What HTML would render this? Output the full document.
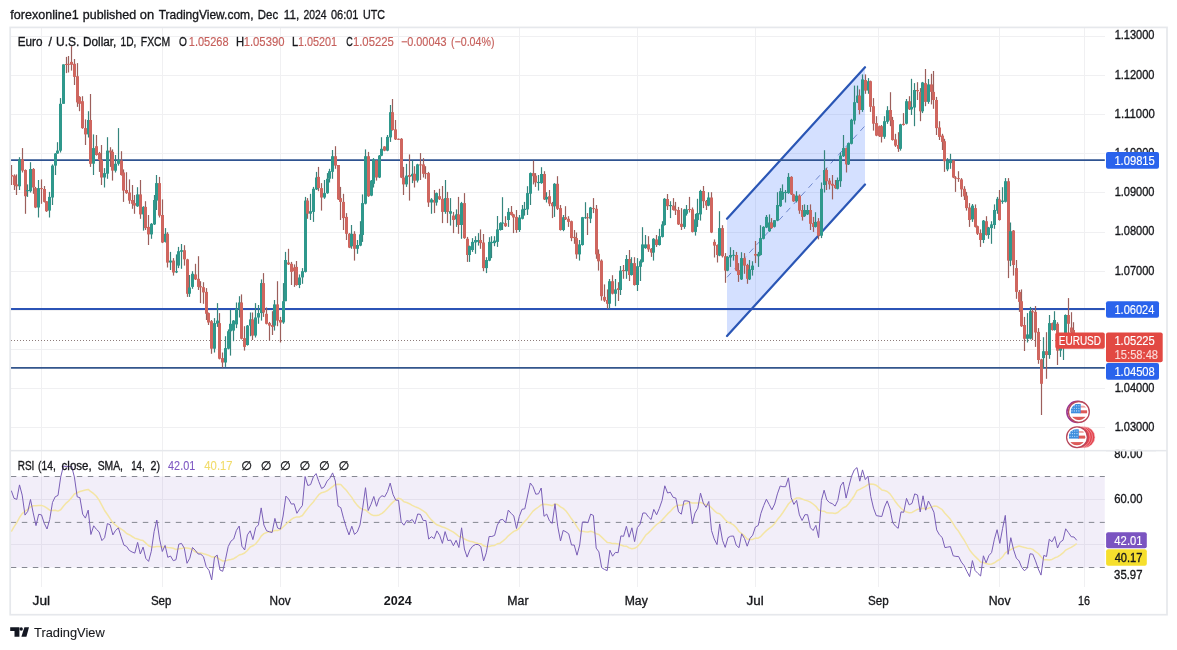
<!DOCTYPE html>
<html lang="en"><head><meta charset="utf-8"><title>EURUSD chart</title>
<style>html,body{margin:0;padding:0;background:#fff}body{width:1177px;height:650px;overflow:hidden}svg{display:block}text{white-space:pre}</style>
</head><body>
<svg width="1177" height="650" viewBox="0 0 1177 650" font-family='"Liberation Sans", "DejaVu Sans", sans-serif'>
<rect width="1177" height="650" fill="#fff"/>
<text y="18.6" font-size="12.6"><tspan x="10.26" textLength="68.47" lengthAdjust="spacingAndGlyphs" fill="#17181c" stroke="#17181c" stroke-width="0.33">forexonline1</tspan> <tspan x="82.84" textLength="53.27" lengthAdjust="spacingAndGlyphs" fill="#17181c" stroke="#17181c" stroke-width="0.33">published</tspan> <tspan x="139.88" textLength="14.36" lengthAdjust="spacingAndGlyphs" fill="#17181c" stroke="#17181c" stroke-width="0.33">on</tspan> <tspan x="158.63" textLength="94.85" lengthAdjust="spacingAndGlyphs" fill="#17181c" stroke="#17181c" stroke-width="0.33">TradingView.com,</tspan> <tspan x="257.84" textLength="20.31" lengthAdjust="spacingAndGlyphs" fill="#17181c" stroke="#17181c" stroke-width="0.33">Dec</tspan> <tspan x="283.84" textLength="15.34" lengthAdjust="spacingAndGlyphs" fill="#17181c" stroke="#17181c" stroke-width="0.33">11,</tspan> <tspan x="303.53" textLength="23.08" lengthAdjust="spacingAndGlyphs" fill="#17181c" stroke="#17181c" stroke-width="0.33">2024</tspan> <tspan x="330.96" textLength="27.44" lengthAdjust="spacingAndGlyphs" fill="#17181c" stroke="#17181c" stroke-width="0.33">06:01</tspan> <tspan x="362.97" textLength="22.05" lengthAdjust="spacingAndGlyphs" fill="#17181c" stroke="#17181c" stroke-width="0.33">UTC</tspan></text>
<g stroke="#f0f0f2" stroke-width="1" shape-rendering="crispEdges">
<line x1="41.6" y1="28" x2="41.6" y2="587"/>
<line x1="162.5" y1="28" x2="162.5" y2="587"/>
<line x1="280.7" y1="28" x2="280.7" y2="587"/>
<line x1="398.6" y1="28" x2="398.6" y2="587"/>
<line x1="519.6" y1="28" x2="519.6" y2="587"/>
<line x1="637.5" y1="28" x2="637.5" y2="587"/>
<line x1="755.6" y1="28" x2="755.6" y2="587"/>
<line x1="878.6" y1="28" x2="878.6" y2="587"/>
<line x1="999.6" y1="28" x2="999.6" y2="587"/>
<line x1="1084.3" y1="28" x2="1084.3" y2="587"/>
<line x1="11" y1="36.5" x2="1104.8" y2="36.5"/>
<line x1="11" y1="75.5" x2="1104.8" y2="75.5"/>
<line x1="11" y1="114.5" x2="1104.8" y2="114.5"/>
<line x1="11" y1="153.5" x2="1104.8" y2="153.5"/>
<line x1="11" y1="192.5" x2="1104.8" y2="192.5"/>
<line x1="11" y1="232.5" x2="1104.8" y2="232.5"/>
<line x1="11" y1="271.5" x2="1104.8" y2="271.5"/>
<line x1="11" y1="310.5" x2="1104.8" y2="310.5"/>
<line x1="11" y1="349.5" x2="1104.8" y2="349.5"/>
<line x1="11" y1="388.5" x2="1104.8" y2="388.5"/>
<line x1="11" y1="427.5" x2="1104.8" y2="427.5"/>
<line x1="11" y1="499.5" x2="1104.8" y2="499.5"/>
<line x1="11" y1="544.3" x2="1104.8" y2="544.3"/>
</g>
<g id="channel">
<polygon points="727,218.7 865,67.2 865,184.5 727,336" fill="#2962ff" fill-opacity="0.2"/>
<line x1="727" y1="277.3" x2="865" y2="125.8" stroke="#5d78c4" stroke-width="1" stroke-dasharray="6,5" opacity="0.85"/>
<line x1="727" y1="218.7" x2="865" y2="67.2" stroke="#2a56b5" stroke-width="2.2" stroke-linecap="round"/>
<line x1="727" y1="336" x2="865" y2="184.5" stroke="#2a56b5" stroke-width="2.2" stroke-linecap="round"/>
</g>
<line x1="11" y1="160.1" x2="1104.8" y2="160.1" stroke="#2f5391" stroke-width="1.9"/>
<line x1="11" y1="309.0" x2="1104.8" y2="309.0" stroke="#2b53b6" stroke-width="1.9"/>
<line x1="11" y1="367.9" x2="1104.8" y2="367.9" stroke="#33568c" stroke-width="1.9"/>
<line x1="11" y1="340.5" x2="1104.8" y2="340.5" stroke="#8e7c7a" stroke-width="1" stroke-dasharray="1,2" shape-rendering="crispEdges"/>
<g id="candles">
<path d="M11.5 165.0V185.0" stroke="#9c5f5b" stroke-width="1.2"/><rect x="10.00" y="175.0" width="3" height="1.5" fill="#cf665f"/>
<path d="M14.5 174.4V190.0" stroke="#9c5f5b" stroke-width="1.2"/><rect x="13.00" y="175.6" width="3" height="9.4" fill="#cf665f"/>
<path d="M16.5 174.4V195.0" stroke="#9c5f5b" stroke-width="1.2"/><rect x="15.00" y="184.4" width="3" height="1.9" fill="#cf665f"/>
<path d="M19.5 157.2V190.0" stroke="#35857d" stroke-width="1.2"/><rect x="18.00" y="159.4" width="3" height="26.9" fill="#2f988c"/>
<path d="M22.5 148.1V172.5" stroke="#9c5f5b" stroke-width="1.2"/><rect x="21.00" y="159.4" width="3" height="11.2" fill="#cf665f"/>
<path d="M25.5 169.4V213.8" stroke="#9c5f5b" stroke-width="1.2"/><rect x="24.00" y="170.0" width="3" height="26.2" fill="#cf665f"/>
<path d="M27.5 184.4V196.9" stroke="#35857d" stroke-width="1.2"/><rect x="26.00" y="190.0" width="3" height="1.2" fill="#2f988c"/>
<path d="M30.5 162.2V192.5" stroke="#35857d" stroke-width="1.2"/><rect x="29.00" y="169.0" width="3" height="22.2" fill="#2f988c"/>
<path d="M33.5 168.1V193.8" stroke="#9c5f5b" stroke-width="1.2"/><rect x="32.00" y="169.0" width="3" height="18.5" fill="#cf665f"/>
<path d="M35.5 186.9V208.1" stroke="#9c5f5b" stroke-width="1.2"/><rect x="34.00" y="188.1" width="3" height="19.4" fill="#cf665f"/>
<path d="M38.5 180.0V217.5" stroke="#35857d" stroke-width="1.2"/><rect x="37.00" y="188.1" width="3" height="19.4" fill="#2f988c"/>
<path d="M41.5 179.4V203.8" stroke="#9c5f5b" stroke-width="1.2"/><rect x="40.00" y="188.1" width="3" height="1.0" fill="#cf665f"/>
<path d="M44.5 186.0V202.5" stroke="#9c5f5b" stroke-width="1.2"/><rect x="43.00" y="189.0" width="3" height="12.9" fill="#cf665f"/>
<path d="M46.5 201.2V211.9" stroke="#9c5f5b" stroke-width="1.2"/><rect x="45.00" y="201.2" width="3" height="10.0" fill="#cf665f"/>
<path d="M49.5 191.9V217.5" stroke="#35857d" stroke-width="1.2"/><rect x="48.00" y="196.9" width="3" height="13.7" fill="#2f988c"/>
<path d="M52.5 164.4V205.0" stroke="#35857d" stroke-width="1.2"/><rect x="51.00" y="165.6" width="3" height="31.9" fill="#2f988c"/>
<path d="M55.5 153.1V175.0" stroke="#35857d" stroke-width="1.2"/><rect x="54.00" y="153.5" width="3" height="12.1" fill="#2f988c"/>
<path d="M57.5 142.2V153.8" stroke="#35857d" stroke-width="1.2"/><rect x="56.00" y="150.6" width="3" height="2.9" fill="#2f988c"/>
<path d="M60.5 98.1V152.5" stroke="#35857d" stroke-width="1.2"/><rect x="59.00" y="103.8" width="3" height="46.9" fill="#2f988c"/>
<path d="M63.5 64.4V103.8" stroke="#35857d" stroke-width="1.2"/><rect x="62.00" y="64.4" width="3" height="39.4" fill="#2f988c"/>
<path d="M66.5 56.9V73.1" stroke="#9c5f5b" stroke-width="1.2"/><rect x="65.00" y="64.0" width="3" height="1.0" fill="#cf665f"/>
<path d="M68.5 56.0V72.5" stroke="#9c5f5b" stroke-width="1.2"/><rect x="67.00" y="63.8" width="3" height="1.0" fill="#cf665f"/>
<path d="M71.5 46.2V70.6" stroke="#9c5f5b" stroke-width="1.2"/><rect x="70.00" y="61.9" width="3" height="2.9" fill="#cf665f"/>
<path d="M74.5 59.0V85.0" stroke="#9c5f5b" stroke-width="1.2"/><rect x="73.00" y="63.8" width="3" height="13.1" fill="#cf665f"/>
<path d="M77.5 63.1V106.9" stroke="#9c5f5b" stroke-width="1.2"/><rect x="76.00" y="76.2" width="3" height="26.2" fill="#cf665f"/>
<path d="M79.5 96.2V111.2" stroke="#9c5f5b" stroke-width="1.2"/><rect x="78.00" y="96.9" width="3" height="6.9" fill="#cf665f"/>
<path d="M82.5 96.2V128.8" stroke="#9c5f5b" stroke-width="1.2"/><rect x="81.00" y="101.2" width="3" height="26.9" fill="#cf665f"/>
<path d="M85.5 119.4V145.0" stroke="#9c5f5b" stroke-width="1.2"/><rect x="84.00" y="128.1" width="3" height="6.3" fill="#cf665f"/>
<path d="M88.5 111.2V137.5" stroke="#35857d" stroke-width="1.2"/><rect x="87.00" y="120.0" width="3" height="14.4" fill="#2f988c"/>
<path d="M90.5 94.0V166.9" stroke="#9c5f5b" stroke-width="1.2"/><rect x="89.00" y="120.0" width="3" height="43.8" fill="#cf665f"/>
<path d="M93.5 134.4V175.0" stroke="#35857d" stroke-width="1.2"/><rect x="92.00" y="148.1" width="3" height="15.6" fill="#2f988c"/>
<path d="M96.5 135.0V155.6" stroke="#9c5f5b" stroke-width="1.2"/><rect x="95.00" y="146.2" width="3" height="8.8" fill="#cf665f"/>
<path d="M99.5 151.9V171.9" stroke="#9c5f5b" stroke-width="1.2"/><rect x="98.00" y="153.1" width="3" height="6.9" fill="#cf665f"/>
<path d="M101.5 145.0V185.0" stroke="#9c5f5b" stroke-width="1.2"/><rect x="100.00" y="160.0" width="3" height="17.5" fill="#cf665f"/>
<path d="M104.5 168.1V187.5" stroke="#35857d" stroke-width="1.2"/><rect x="103.00" y="173.1" width="3" height="4.4" fill="#2f988c"/>
<path d="M107.5 137.2V178.8" stroke="#35857d" stroke-width="1.2"/><rect x="106.00" y="150.6" width="3" height="23.1" fill="#2f988c"/>
<path d="M110.5 147.2V166.9" stroke="#9c5f5b" stroke-width="1.2"/><rect x="109.00" y="150.6" width="3" height="1.9" fill="#cf665f"/>
<path d="M112.5 149.4V180.6" stroke="#9c5f5b" stroke-width="1.2"/><rect x="111.00" y="151.9" width="3" height="18.7" fill="#cf665f"/>
<path d="M115.5 155.0V172.5" stroke="#35857d" stroke-width="1.2"/><rect x="114.00" y="163.8" width="3" height="6.9" fill="#2f988c"/>
<path d="M118.5 128.1V165.6" stroke="#35857d" stroke-width="1.2"/><rect x="117.00" y="160.0" width="3" height="3.8" fill="#2f988c"/>
<path d="M121.5 151.2V175.6" stroke="#9c5f5b" stroke-width="1.2"/><rect x="120.00" y="160.6" width="3" height="14.4" fill="#cf665f"/>
<path d="M123.5 169.4V201.9" stroke="#9c5f5b" stroke-width="1.2"/><rect x="122.00" y="172.5" width="3" height="18.1" fill="#cf665f"/>
<path d="M126.5 172.2V193.8" stroke="#9c5f5b" stroke-width="1.2"/><rect x="125.00" y="190.0" width="3" height="3.1" fill="#cf665f"/>
<path d="M129.5 179.4V203.8" stroke="#9c5f5b" stroke-width="1.2"/><rect x="128.00" y="192.5" width="3" height="8.1" fill="#cf665f"/>
<path d="M132.5 185.0V208.8" stroke="#9c5f5b" stroke-width="1.2"/><rect x="131.00" y="200.0" width="3" height="3.8" fill="#cf665f"/>
<path d="M134.5 195.0V213.8" stroke="#9c5f5b" stroke-width="1.2"/><rect x="133.00" y="203.1" width="3" height="2.5" fill="#cf665f"/>
<path d="M137.5 187.2V206.9" stroke="#35857d" stroke-width="1.2"/><rect x="136.00" y="194.4" width="3" height="11.9" fill="#2f988c"/>
<path d="M140.5 180.0V218.8" stroke="#9c5f5b" stroke-width="1.2"/><rect x="139.00" y="194.4" width="3" height="20.0" fill="#cf665f"/>
<path d="M143.5 206.2V230.6" stroke="#35857d" stroke-width="1.2"/><rect x="142.00" y="206.9" width="3" height="7.5" fill="#2f988c"/>
<path d="M145.5 201.2V230.0" stroke="#9c5f5b" stroke-width="1.2"/><rect x="144.00" y="206.9" width="3" height="21.2" fill="#cf665f"/>
<path d="M148.5 215.0V245.0" stroke="#9c5f5b" stroke-width="1.2"/><rect x="147.00" y="226.9" width="3" height="7.5" fill="#cf665f"/>
<path d="M151.5 223.1V238.8" stroke="#35857d" stroke-width="1.2"/><rect x="150.00" y="223.8" width="3" height="10.6" fill="#2f988c"/>
<path d="M154.5 195.0V225.0" stroke="#35857d" stroke-width="1.2"/><rect x="153.00" y="200.0" width="3" height="24.4" fill="#2f988c"/>
<path d="M156.5 175.0V210.0" stroke="#35857d" stroke-width="1.2"/><rect x="155.00" y="183.1" width="3" height="17.5" fill="#2f988c"/>
<path d="M159.5 176.9V217.5" stroke="#9c5f5b" stroke-width="1.2"/><rect x="158.00" y="183.1" width="3" height="32.5" fill="#cf665f"/>
<path d="M162.5 199.4V243.1" stroke="#9c5f5b" stroke-width="1.2"/><rect x="161.00" y="215.0" width="3" height="27.5" fill="#cf665f"/>
<path d="M165.5 228.1V242.5" stroke="#35857d" stroke-width="1.2"/><rect x="164.00" y="233.8" width="3" height="8.1" fill="#2f988c"/>
<path d="M167.5 232.2V267.5" stroke="#9c5f5b" stroke-width="1.2"/><rect x="166.00" y="233.8" width="3" height="28.8" fill="#cf665f"/>
<path d="M170.5 251.9V270.0" stroke="#35857d" stroke-width="1.2"/><rect x="169.00" y="260.6" width="3" height="1.9" fill="#2f988c"/>
<path d="M173.5 258.1V275.6" stroke="#9c5f5b" stroke-width="1.2"/><rect x="172.00" y="260.6" width="3" height="11.9" fill="#cf665f"/>
<path d="M176.5 254.4V273.1" stroke="#35857d" stroke-width="1.2"/><rect x="175.00" y="271.2" width="3" height="1.2" fill="#2f988c"/>
<path d="M178.5 246.9V268.1" stroke="#35857d" stroke-width="1.2"/><rect x="177.00" y="251.2" width="3" height="14.4" fill="#2f988c"/>
<path d="M181.5 244.0V268.8" stroke="#35857d" stroke-width="1.2"/><rect x="180.00" y="250.2" width="3" height="1.6" fill="#2f988c"/>
<path d="M184.5 245.2V265.6" stroke="#9c5f5b" stroke-width="1.2"/><rect x="183.00" y="250.2" width="3" height="9.1" fill="#cf665f"/>
<path d="M187.5 258.8V296.9" stroke="#9c5f5b" stroke-width="1.2"/><rect x="186.00" y="259.4" width="3" height="34.4" fill="#cf665f"/>
<path d="M189.5 275.0V296.9" stroke="#35857d" stroke-width="1.2"/><rect x="188.00" y="287.5" width="3" height="6.2" fill="#2f988c"/>
<path d="M192.5 271.2V288.8" stroke="#35857d" stroke-width="1.2"/><rect x="191.00" y="273.8" width="3" height="13.1" fill="#2f988c"/>
<path d="M195.5 263.8V280.0" stroke="#9c5f5b" stroke-width="1.2"/><rect x="194.00" y="274.4" width="3" height="5.0" fill="#cf665f"/>
<path d="M198.5 256.2V290.0" stroke="#9c5f5b" stroke-width="1.2"/><rect x="197.00" y="278.8" width="3" height="8.1" fill="#cf665f"/>
<path d="M200.5 281.2V303.1" stroke="#9c5f5b" stroke-width="1.2"/><rect x="199.00" y="286.2" width="3" height="1.2" fill="#cf665f"/>
<path d="M203.5 282.2V303.8" stroke="#9c5f5b" stroke-width="1.2"/><rect x="202.00" y="287.2" width="3" height="5.2" fill="#cf665f"/>
<path d="M206.5 288.1V320.0" stroke="#9c5f5b" stroke-width="1.2"/><rect x="205.00" y="291.9" width="3" height="21.9" fill="#cf665f"/>
<path d="M208.5 312.5V325.0" stroke="#9c5f5b" stroke-width="1.2"/><rect x="207.00" y="313.1" width="3" height="9.4" fill="#cf665f"/>
<path d="M211.5 320.0V353.8" stroke="#9c5f5b" stroke-width="1.2"/><rect x="210.00" y="321.2" width="3" height="27.5" fill="#cf665f"/>
<path d="M214.5 318.1V352.5" stroke="#35857d" stroke-width="1.2"/><rect x="213.00" y="323.1" width="3" height="25.6" fill="#2f988c"/>
<path d="M217.5 303.1V326.9" stroke="#35857d" stroke-width="1.2"/><rect x="216.00" y="320.6" width="3" height="3.1" fill="#2f988c"/>
<path d="M219.5 313.1V359.4" stroke="#9c5f5b" stroke-width="1.2"/><rect x="218.00" y="323.1" width="3" height="35.6" fill="#cf665f"/>
<path d="M222.5 352.5V367.5" stroke="#9c5f5b" stroke-width="1.2"/><rect x="221.00" y="358.1" width="3" height="4.4" fill="#cf665f"/>
<path d="M225.5 336.2V366.9" stroke="#35857d" stroke-width="1.2"/><rect x="224.00" y="348.1" width="3" height="14.4" fill="#2f988c"/>
<path d="M228.5 329.4V349.4" stroke="#35857d" stroke-width="1.2"/><rect x="227.00" y="331.2" width="3" height="17.5" fill="#2f988c"/>
<path d="M230.5 310.0V355.6" stroke="#35857d" stroke-width="1.2"/><rect x="229.00" y="323.8" width="3" height="7.5" fill="#2f988c"/>
<path d="M233.5 320.0V341.2" stroke="#35857d" stroke-width="1.2"/><rect x="232.00" y="320.6" width="3" height="10.0" fill="#2f988c"/>
<path d="M236.5 302.5V328.1" stroke="#35857d" stroke-width="1.2"/><rect x="235.00" y="308.8" width="3" height="15.6" fill="#2f988c"/>
<path d="M239.5 296.2V317.5" stroke="#35857d" stroke-width="1.2"/><rect x="238.00" y="302.5" width="3" height="6.2" fill="#2f988c"/>
<path d="M241.5 294.4V339.4" stroke="#9c5f5b" stroke-width="1.2"/><rect x="240.00" y="302.5" width="3" height="36.2" fill="#cf665f"/>
<path d="M244.5 326.2V350.6" stroke="#9c5f5b" stroke-width="1.2"/><rect x="243.00" y="338.1" width="3" height="8.8" fill="#cf665f"/>
<path d="M247.5 325.0V345.6" stroke="#35857d" stroke-width="1.2"/><rect x="246.00" y="325.6" width="3" height="19.4" fill="#2f988c"/>
<path d="M250.5 312.5V336.2" stroke="#35857d" stroke-width="1.2"/><rect x="249.00" y="319.4" width="3" height="6.2" fill="#2f988c"/>
<path d="M252.5 312.5V340.0" stroke="#9c5f5b" stroke-width="1.2"/><rect x="251.00" y="319.4" width="3" height="16.2" fill="#cf665f"/>
<path d="M255.5 303.1V337.5" stroke="#35857d" stroke-width="1.2"/><rect x="254.00" y="317.5" width="3" height="18.1" fill="#2f988c"/>
<path d="M258.5 305.0V323.8" stroke="#35857d" stroke-width="1.2"/><rect x="257.00" y="313.1" width="3" height="4.4" fill="#2f988c"/>
<path d="M261.5 279.4V320.6" stroke="#35857d" stroke-width="1.2"/><rect x="260.00" y="283.1" width="3" height="30.0" fill="#2f988c"/>
<path d="M263.5 273.1V316.9" stroke="#9c5f5b" stroke-width="1.2"/><rect x="262.00" y="283.1" width="3" height="29.4" fill="#cf665f"/>
<path d="M266.5 307.5V324.4" stroke="#9c5f5b" stroke-width="1.2"/><rect x="265.00" y="313.8" width="3" height="10.0" fill="#cf665f"/>
<path d="M269.5 321.9V340.6" stroke="#9c5f5b" stroke-width="1.2"/><rect x="268.00" y="323.1" width="3" height="2.5" fill="#cf665f"/>
<path d="M272.5 311.2V335.0" stroke="#9c5f5b" stroke-width="1.2"/><rect x="271.00" y="325.0" width="3" height="1.9" fill="#cf665f"/>
<path d="M274.5 300.0V330.6" stroke="#35857d" stroke-width="1.2"/><rect x="273.00" y="304.4" width="3" height="21.2" fill="#2f988c"/>
<path d="M277.5 281.2V326.2" stroke="#9c5f5b" stroke-width="1.2"/><rect x="276.00" y="304.4" width="3" height="16.2" fill="#cf665f"/>
<path d="M280.5 316.9V342.5" stroke="#9c5f5b" stroke-width="1.2"/><rect x="279.00" y="320.0" width="3" height="2.5" fill="#cf665f"/>
<path d="M283.5 283.1V323.8" stroke="#35857d" stroke-width="1.2"/><rect x="282.00" y="301.2" width="3" height="21.2" fill="#2f988c"/>
<path d="M285.5 251.9V301.2" stroke="#35857d" stroke-width="1.2"/><rect x="284.00" y="260.0" width="3" height="41.2" fill="#2f988c"/>
<path d="M288.5 248.8V265.0" stroke="#9c5f5b" stroke-width="1.2"/><rect x="287.00" y="262.5" width="3" height="1.9" fill="#cf665f"/>
<path d="M291.5 261.9V285.0" stroke="#9c5f5b" stroke-width="1.2"/><rect x="290.00" y="263.8" width="3" height="8.1" fill="#cf665f"/>
<path d="M294.5 264.4V286.9" stroke="#9c5f5b" stroke-width="1.2"/><rect x="293.00" y="267.5" width="3" height="3.8" fill="#cf665f"/>
<path d="M296.5 261.0V285.6" stroke="#9c5f5b" stroke-width="1.2"/><rect x="295.00" y="266.9" width="3" height="18.1" fill="#cf665f"/>
<path d="M299.5 274.4V288.1" stroke="#35857d" stroke-width="1.2"/><rect x="298.00" y="277.5" width="3" height="7.5" fill="#2f988c"/>
<path d="M302.5 268.1V283.8" stroke="#35857d" stroke-width="1.2"/><rect x="301.00" y="271.2" width="3" height="6.2" fill="#2f988c"/>
<path d="M305.5 196.9V272.5" stroke="#35857d" stroke-width="1.2"/><rect x="304.00" y="200.6" width="3" height="71.3" fill="#2f988c"/>
<path d="M307.5 198.1V218.8" stroke="#9c5f5b" stroke-width="1.2"/><rect x="306.00" y="200.6" width="3" height="13.1" fill="#cf665f"/>
<path d="M310.5 193.8V220.0" stroke="#35857d" stroke-width="1.2"/><rect x="309.00" y="211.2" width="3" height="2.5" fill="#2f988c"/>
<path d="M313.5 186.9V221.9" stroke="#35857d" stroke-width="1.2"/><rect x="312.00" y="188.8" width="3" height="23.1" fill="#2f988c"/>
<path d="M316.5 171.9V190.0" stroke="#35857d" stroke-width="1.2"/><rect x="315.00" y="177.5" width="3" height="11.9" fill="#2f988c"/>
<path d="M318.5 166.9V191.2" stroke="#9c5f5b" stroke-width="1.2"/><rect x="317.00" y="176.9" width="3" height="11.2" fill="#cf665f"/>
<path d="M321.5 183.1V210.6" stroke="#9c5f5b" stroke-width="1.2"/><rect x="320.00" y="188.1" width="3" height="9.4" fill="#cf665f"/>
<path d="M324.5 180.0V198.8" stroke="#35857d" stroke-width="1.2"/><rect x="323.00" y="193.1" width="3" height="4.4" fill="#2f988c"/>
<path d="M327.5 173.1V193.8" stroke="#35857d" stroke-width="1.2"/><rect x="326.00" y="178.8" width="3" height="14.4" fill="#2f988c"/>
<path d="M329.5 168.8V182.5" stroke="#35857d" stroke-width="1.2"/><rect x="328.00" y="171.2" width="3" height="7.5" fill="#2f988c"/>
<path d="M332.5 150.0V178.8" stroke="#35857d" stroke-width="1.2"/><rect x="331.00" y="156.2" width="3" height="15.6" fill="#2f988c"/>
<path d="M335.5 146.2V168.8" stroke="#9c5f5b" stroke-width="1.2"/><rect x="334.00" y="156.2" width="3" height="9.4" fill="#cf665f"/>
<path d="M338.5 165.0V200.0" stroke="#9c5f5b" stroke-width="1.2"/><rect x="337.00" y="165.0" width="3" height="34.4" fill="#cf665f"/>
<path d="M340.5 186.9V220.0" stroke="#9c5f5b" stroke-width="1.2"/><rect x="339.00" y="198.1" width="3" height="3.8" fill="#cf665f"/>
<path d="M343.5 193.8V230.0" stroke="#9c5f5b" stroke-width="1.2"/><rect x="342.00" y="201.9" width="3" height="16.2" fill="#cf665f"/>
<path d="M346.5 213.1V240.0" stroke="#9c5f5b" stroke-width="1.2"/><rect x="345.00" y="216.9" width="3" height="16.9" fill="#cf665f"/>
<path d="M349.5 233.1V248.1" stroke="#9c5f5b" stroke-width="1.2"/><rect x="348.00" y="233.8" width="3" height="13.8" fill="#cf665f"/>
<path d="M351.5 225.0V248.8" stroke="#35857d" stroke-width="1.2"/><rect x="350.00" y="233.8" width="3" height="12.5" fill="#2f988c"/>
<path d="M354.5 231.2V260.6" stroke="#9c5f5b" stroke-width="1.2"/><rect x="353.00" y="233.8" width="3" height="15.0" fill="#cf665f"/>
<path d="M357.5 240.0V253.8" stroke="#35857d" stroke-width="1.2"/><rect x="356.00" y="245.0" width="3" height="3.8" fill="#2f988c"/>
<path d="M360.5 221.2V246.2" stroke="#35857d" stroke-width="1.2"/><rect x="359.00" y="234.4" width="3" height="11.2" fill="#2f988c"/>
<path d="M362.5 194.4V241.9" stroke="#35857d" stroke-width="1.2"/><rect x="361.00" y="203.1" width="3" height="31.9" fill="#2f988c"/>
<path d="M365.5 149.4V204.4" stroke="#35857d" stroke-width="1.2"/><rect x="364.00" y="156.2" width="3" height="47.5" fill="#2f988c"/>
<path d="M368.5 151.9V196.9" stroke="#9c5f5b" stroke-width="1.2"/><rect x="367.00" y="156.2" width="3" height="40.0" fill="#cf665f"/>
<path d="M371.5 180.0V196.2" stroke="#35857d" stroke-width="1.2"/><rect x="370.00" y="180.6" width="3" height="15.0" fill="#2f988c"/>
<path d="M373.5 158.1V187.5" stroke="#35857d" stroke-width="1.2"/><rect x="372.00" y="159.4" width="3" height="24.4" fill="#2f988c"/>
<path d="M376.5 160.0V180.6" stroke="#9c5f5b" stroke-width="1.2"/><rect x="375.00" y="160.6" width="3" height="16.9" fill="#cf665f"/>
<path d="M379.5 155.0V178.1" stroke="#35857d" stroke-width="1.2"/><rect x="378.00" y="155.6" width="3" height="21.9" fill="#2f988c"/>
<path d="M381.5 137.2V156.2" stroke="#35857d" stroke-width="1.2"/><rect x="380.00" y="148.8" width="3" height="6.9" fill="#2f988c"/>
<path d="M384.5 146.2V151.2" stroke="#9c5f5b" stroke-width="1.2"/><rect x="383.00" y="146.5" width="3" height="4.1" fill="#cf665f"/>
<path d="M387.5 135.0V151.2" stroke="#35857d" stroke-width="1.2"/><rect x="386.00" y="136.9" width="3" height="13.7" fill="#2f988c"/>
<path d="M390.5 105.0V141.9" stroke="#35857d" stroke-width="1.2"/><rect x="389.00" y="112.2" width="3" height="25.2" fill="#2f988c"/>
<path d="M392.5 99.0V130.6" stroke="#9c5f5b" stroke-width="1.2"/><rect x="391.00" y="112.2" width="3" height="17.8" fill="#cf665f"/>
<path d="M395.5 120.0V140.0" stroke="#9c5f5b" stroke-width="1.2"/><rect x="394.00" y="129.4" width="3" height="10.0" fill="#cf665f"/>
<path d="M398.5 138.5V140.0" stroke="#9c5f5b" stroke-width="1.2"/><rect x="397.00" y="138.8" width="3" height="1.0" fill="#cf665f"/>
<path d="M401.5 138.1V178.1" stroke="#9c5f5b" stroke-width="1.2"/><rect x="400.00" y="138.8" width="3" height="38.8" fill="#cf665f"/>
<path d="M403.5 166.9V195.0" stroke="#9c5f5b" stroke-width="1.2"/><rect x="402.00" y="177.5" width="3" height="6.9" fill="#cf665f"/>
<path d="M406.5 163.8V186.9" stroke="#35857d" stroke-width="1.2"/><rect x="405.00" y="175.6" width="3" height="8.8" fill="#2f988c"/>
<path d="M409.5 154.4V200.6" stroke="#9c5f5b" stroke-width="1.2"/><rect x="408.00" y="175.0" width="3" height="1.9" fill="#cf665f"/>
<path d="M412.5 160.6V183.1" stroke="#35857d" stroke-width="1.2"/><rect x="411.00" y="173.8" width="3" height="2.5" fill="#2f988c"/>
<path d="M414.5 166.2V187.5" stroke="#9c5f5b" stroke-width="1.2"/><rect x="413.00" y="173.8" width="3" height="6.9" fill="#cf665f"/>
<path d="M417.5 163.8V182.5" stroke="#35857d" stroke-width="1.2"/><rect x="416.00" y="164.4" width="3" height="16.2" fill="#2f988c"/>
<path d="M420.5 153.1V180.0" stroke="#9c5f5b" stroke-width="1.2"/><rect x="419.00" y="164.4" width="3" height="1.0" fill="#cf665f"/>
<path d="M423.5 158.1V177.5" stroke="#9c5f5b" stroke-width="1.2"/><rect x="422.00" y="164.4" width="3" height="9.4" fill="#cf665f"/>
<path d="M425.5 166.2V178.8" stroke="#9c5f5b" stroke-width="1.2"/><rect x="424.00" y="173.1" width="3" height="1.0" fill="#cf665f"/>
<path d="M428.5 171.9V206.9" stroke="#9c5f5b" stroke-width="1.2"/><rect x="427.00" y="173.1" width="3" height="29.4" fill="#cf665f"/>
<path d="M431.5 198.1V213.8" stroke="#35857d" stroke-width="1.2"/><rect x="430.00" y="199.4" width="3" height="3.1" fill="#2f988c"/>
<path d="M434.5 190.0V213.1" stroke="#9c5f5b" stroke-width="1.2"/><rect x="433.00" y="200.0" width="3" height="2.5" fill="#cf665f"/>
<path d="M436.5 192.5V205.6" stroke="#35857d" stroke-width="1.2"/><rect x="435.00" y="193.1" width="3" height="9.4" fill="#2f988c"/>
<path d="M439.5 188.8V200.0" stroke="#9c5f5b" stroke-width="1.2"/><rect x="438.00" y="196.2" width="3" height="3.1" fill="#cf665f"/>
<path d="M442.5 186.0V223.1" stroke="#9c5f5b" stroke-width="1.2"/><rect x="441.00" y="198.8" width="3" height="13.1" fill="#cf665f"/>
<path d="M445.5 180.0V213.8" stroke="#35857d" stroke-width="1.2"/><rect x="444.00" y="198.1" width="3" height="13.8" fill="#2f988c"/>
<path d="M447.5 191.9V223.1" stroke="#9c5f5b" stroke-width="1.2"/><rect x="446.00" y="198.1" width="3" height="13.8" fill="#cf665f"/>
<path d="M450.5 198.1V225.6" stroke="#35857d" stroke-width="1.2"/><rect x="449.00" y="211.2" width="3" height="2.5" fill="#2f988c"/>
<path d="M453.5 211.9V233.1" stroke="#9c5f5b" stroke-width="1.2"/><rect x="452.00" y="215.6" width="3" height="4.4" fill="#cf665f"/>
<path d="M456.5 209.4V226.9" stroke="#35857d" stroke-width="1.2"/><rect x="455.00" y="214.4" width="3" height="5.0" fill="#2f988c"/>
<path d="M458.5 196.9V233.8" stroke="#9c5f5b" stroke-width="1.2"/><rect x="457.00" y="214.4" width="3" height="10.6" fill="#cf665f"/>
<path d="M461.5 201.9V238.8" stroke="#35857d" stroke-width="1.2"/><rect x="460.00" y="203.1" width="3" height="21.9" fill="#2f988c"/>
<path d="M464.5 193.1V238.8" stroke="#9c5f5b" stroke-width="1.2"/><rect x="463.00" y="203.1" width="3" height="35.0" fill="#cf665f"/>
<path d="M467.5 236.9V261.9" stroke="#9c5f5b" stroke-width="1.2"/><rect x="466.00" y="238.8" width="3" height="16.2" fill="#cf665f"/>
<path d="M469.5 245.6V261.9" stroke="#35857d" stroke-width="1.2"/><rect x="468.00" y="246.2" width="3" height="8.8" fill="#2f988c"/>
<path d="M472.5 238.1V251.9" stroke="#35857d" stroke-width="1.2"/><rect x="471.00" y="241.9" width="3" height="8.1" fill="#2f988c"/>
<path d="M475.5 236.2V253.8" stroke="#35857d" stroke-width="1.2"/><rect x="474.00" y="240.0" width="3" height="2.5" fill="#2f988c"/>
<path d="M478.5 233.1V245.6" stroke="#35857d" stroke-width="1.2"/><rect x="477.00" y="240.0" width="3" height="1.9" fill="#2f988c"/>
<path d="M480.5 229.4V248.8" stroke="#9c5f5b" stroke-width="1.2"/><rect x="479.00" y="240.0" width="3" height="3.1" fill="#cf665f"/>
<path d="M483.5 234.0V271.2" stroke="#9c5f5b" stroke-width="1.2"/><rect x="482.00" y="242.5" width="3" height="25.6" fill="#cf665f"/>
<path d="M486.5 257.2V273.1" stroke="#35857d" stroke-width="1.2"/><rect x="485.00" y="260.0" width="3" height="8.1" fill="#2f988c"/>
<path d="M489.5 237.2V261.2" stroke="#35857d" stroke-width="1.2"/><rect x="488.00" y="241.9" width="3" height="18.7" fill="#2f988c"/>
<path d="M491.5 236.2V258.1" stroke="#35857d" stroke-width="1.2"/><rect x="490.00" y="241.9" width="3" height="1.2" fill="#2f988c"/>
<path d="M494.5 236.2V246.2" stroke="#35857d" stroke-width="1.2"/><rect x="493.00" y="240.6" width="3" height="2.5" fill="#2f988c"/>
<path d="M497.5 216.0V246.9" stroke="#35857d" stroke-width="1.2"/><rect x="496.00" y="229.4" width="3" height="12.5" fill="#2f988c"/>
<path d="M500.5 222.2V230.6" stroke="#35857d" stroke-width="1.2"/><rect x="499.00" y="223.1" width="3" height="6.9" fill="#2f988c"/>
<path d="M502.5 197.2V230.0" stroke="#35857d" stroke-width="1.2"/><rect x="501.00" y="222.5" width="3" height="1.2" fill="#2f988c"/>
<path d="M505.5 216.2V226.9" stroke="#9c5f5b" stroke-width="1.2"/><rect x="504.00" y="223.1" width="3" height="3.1" fill="#cf665f"/>
<path d="M508.5 208.1V226.9" stroke="#35857d" stroke-width="1.2"/><rect x="507.00" y="211.9" width="3" height="8.1" fill="#2f988c"/>
<path d="M511.5 206.0V215.6" stroke="#9c5f5b" stroke-width="1.2"/><rect x="510.00" y="211.9" width="3" height="3.1" fill="#cf665f"/>
<path d="M513.5 213.8V233.1" stroke="#9c5f5b" stroke-width="1.2"/><rect x="512.00" y="214.4" width="3" height="3.1" fill="#cf665f"/>
<path d="M516.5 210.0V232.8" stroke="#9c5f5b" stroke-width="1.2"/><rect x="515.00" y="216.9" width="3" height="13.1" fill="#cf665f"/>
<path d="M519.5 215.0V231.9" stroke="#35857d" stroke-width="1.2"/><rect x="518.00" y="217.5" width="3" height="12.5" fill="#2f988c"/>
<path d="M522.5 205.0V219.4" stroke="#35857d" stroke-width="1.2"/><rect x="521.00" y="209.4" width="3" height="9.4" fill="#2f988c"/>
<path d="M524.5 201.9V215.6" stroke="#35857d" stroke-width="1.2"/><rect x="523.00" y="208.8" width="3" height="1.2" fill="#2f988c"/>
<path d="M527.5 186.2V215.0" stroke="#35857d" stroke-width="1.2"/><rect x="526.00" y="193.1" width="3" height="16.3" fill="#2f988c"/>
<path d="M530.5 172.5V205.0" stroke="#35857d" stroke-width="1.2"/><rect x="529.00" y="173.1" width="3" height="20.6" fill="#2f988c"/>
<path d="M533.5 160.6V184.4" stroke="#9c5f5b" stroke-width="1.2"/><rect x="532.00" y="173.1" width="3" height="3.1" fill="#cf665f"/>
<path d="M535.5 173.1V186.9" stroke="#9c5f5b" stroke-width="1.2"/><rect x="534.00" y="175.6" width="3" height="6.9" fill="#cf665f"/>
<path d="M538.5 175.0V190.6" stroke="#35857d" stroke-width="1.2"/><rect x="537.00" y="181.9" width="3" height="1.2" fill="#2f988c"/>
<path d="M541.5 167.2V183.8" stroke="#35857d" stroke-width="1.2"/><rect x="540.00" y="174.0" width="3" height="9.1" fill="#2f988c"/>
<path d="M544.5 171.2V200.0" stroke="#9c5f5b" stroke-width="1.2"/><rect x="543.00" y="174.0" width="3" height="25.4" fill="#cf665f"/>
<path d="M546.5 192.2V202.5" stroke="#35857d" stroke-width="1.2"/><rect x="545.00" y="196.9" width="3" height="2.5" fill="#2f988c"/>
<path d="M549.5 190.0V206.2" stroke="#9c5f5b" stroke-width="1.2"/><rect x="548.00" y="196.2" width="3" height="7.5" fill="#cf665f"/>
<path d="M552.5 201.9V218.1" stroke="#9c5f5b" stroke-width="1.2"/><rect x="551.00" y="203.1" width="3" height="3.1" fill="#cf665f"/>
<path d="M554.5 183.1V216.9" stroke="#35857d" stroke-width="1.2"/><rect x="553.00" y="183.8" width="3" height="22.5" fill="#2f988c"/>
<path d="M557.5 176.2V210.0" stroke="#9c5f5b" stroke-width="1.2"/><rect x="556.00" y="183.8" width="3" height="25.0" fill="#cf665f"/>
<path d="M560.5 205.0V230.6" stroke="#9c5f5b" stroke-width="1.2"/><rect x="559.00" y="208.1" width="3" height="21.9" fill="#cf665f"/>
<path d="M563.5 215.0V231.2" stroke="#35857d" stroke-width="1.2"/><rect x="562.00" y="217.2" width="3" height="12.8" fill="#2f988c"/>
<path d="M565.5 206.2V220.0" stroke="#9c5f5b" stroke-width="1.2"/><rect x="564.00" y="217.2" width="3" height="2.1" fill="#cf665f"/>
<path d="M568.5 216.2V226.9" stroke="#9c5f5b" stroke-width="1.2"/><rect x="567.00" y="218.8" width="3" height="3.1" fill="#cf665f"/>
<path d="M571.5 220.6V241.2" stroke="#9c5f5b" stroke-width="1.2"/><rect x="570.00" y="221.2" width="3" height="16.9" fill="#cf665f"/>
<path d="M574.5 230.0V243.8" stroke="#9c5f5b" stroke-width="1.2"/><rect x="573.00" y="236.9" width="3" height="1.2" fill="#cf665f"/>
<path d="M576.5 232.5V258.8" stroke="#9c5f5b" stroke-width="1.2"/><rect x="575.00" y="238.1" width="3" height="16.3" fill="#cf665f"/>
<path d="M579.5 240.0V260.6" stroke="#35857d" stroke-width="1.2"/><rect x="578.00" y="244.4" width="3" height="10.0" fill="#2f988c"/>
<path d="M582.5 216.9V245.6" stroke="#35857d" stroke-width="1.2"/><rect x="581.00" y="217.2" width="3" height="27.8" fill="#2f988c"/>
<path d="M585.5 202.2V218.8" stroke="#35857d" stroke-width="1.2"/><rect x="584.00" y="217.2" width="3" height="1.0" fill="#2f988c"/>
<path d="M587.5 213.1V235.0" stroke="#9c5f5b" stroke-width="1.2"/><rect x="586.00" y="217.2" width="3" height="1.0" fill="#cf665f"/>
<path d="M590.5 206.9V223.1" stroke="#35857d" stroke-width="1.2"/><rect x="589.00" y="207.5" width="3" height="11.2" fill="#2f988c"/>
<path d="M593.5 198.1V213.1" stroke="#9c5f5b" stroke-width="1.2"/><rect x="592.00" y="208.1" width="3" height="1.0" fill="#cf665f"/>
<path d="M596.5 205.0V258.8" stroke="#9c5f5b" stroke-width="1.2"/><rect x="595.00" y="208.8" width="3" height="45.6" fill="#cf665f"/>
<path d="M598.5 249.4V270.6" stroke="#9c5f5b" stroke-width="1.2"/><rect x="597.00" y="253.8" width="3" height="7.5" fill="#cf665f"/>
<path d="M601.5 259.4V300.6" stroke="#9c5f5b" stroke-width="1.2"/><rect x="600.00" y="260.6" width="3" height="35.6" fill="#cf665f"/>
<path d="M604.5 284.4V301.9" stroke="#9c5f5b" stroke-width="1.2"/><rect x="603.00" y="296.9" width="3" height="3.7" fill="#cf665f"/>
<path d="M607.5 289.4V308.8" stroke="#9c5f5b" stroke-width="1.2"/><rect x="606.00" y="300.0" width="3" height="3.8" fill="#cf665f"/>
<path d="M609.5 279.0V308.8" stroke="#35857d" stroke-width="1.2"/><rect x="608.00" y="281.2" width="3" height="22.5" fill="#2f988c"/>
<path d="M612.5 275.2V294.4" stroke="#9c5f5b" stroke-width="1.2"/><rect x="611.00" y="281.2" width="3" height="12.5" fill="#cf665f"/>
<path d="M615.5 279.0V306.2" stroke="#35857d" stroke-width="1.2"/><rect x="614.00" y="289.4" width="3" height="4.4" fill="#2f988c"/>
<path d="M618.5 282.2V301.0" stroke="#9c5f5b" stroke-width="1.2"/><rect x="617.00" y="288.1" width="3" height="1.9" fill="#cf665f"/>
<path d="M620.5 266.0V295.0" stroke="#35857d" stroke-width="1.2"/><rect x="619.00" y="270.6" width="3" height="19.4" fill="#2f988c"/>
<path d="M623.5 265.0V278.8" stroke="#9c5f5b" stroke-width="1.2"/><rect x="622.00" y="270.0" width="3" height="1.2" fill="#cf665f"/>
<path d="M626.5 255.0V278.8" stroke="#35857d" stroke-width="1.2"/><rect x="625.00" y="259.0" width="3" height="12.2" fill="#2f988c"/>
<path d="M629.5 250.0V281.0" stroke="#9c5f5b" stroke-width="1.2"/><rect x="628.00" y="259.0" width="3" height="16.0" fill="#cf665f"/>
<path d="M631.5 257.2V275.6" stroke="#35857d" stroke-width="1.2"/><rect x="630.00" y="263.1" width="3" height="11.9" fill="#2f988c"/>
<path d="M634.5 257.2V285.6" stroke="#9c5f5b" stroke-width="1.2"/><rect x="633.00" y="263.1" width="3" height="21.9" fill="#cf665f"/>
<path d="M637.5 258.1V291.0" stroke="#35857d" stroke-width="1.2"/><rect x="636.00" y="266.2" width="3" height="18.8" fill="#2f988c"/>
<path d="M640.5 259.4V281.0" stroke="#35857d" stroke-width="1.2"/><rect x="639.00" y="261.2" width="3" height="5.6" fill="#2f988c"/>
<path d="M642.5 227.2V262.5" stroke="#35857d" stroke-width="1.2"/><rect x="641.00" y="244.4" width="3" height="17.5" fill="#2f988c"/>
<path d="M645.5 235.0V248.8" stroke="#35857d" stroke-width="1.2"/><rect x="644.00" y="244.4" width="3" height="3.7" fill="#2f988c"/>
<path d="M648.5 236.2V251.9" stroke="#9c5f5b" stroke-width="1.2"/><rect x="647.00" y="244.4" width="3" height="5.0" fill="#cf665f"/>
<path d="M651.5 248.1V256.9" stroke="#9c5f5b" stroke-width="1.2"/><rect x="650.00" y="248.8" width="3" height="3.8" fill="#cf665f"/>
<path d="M653.5 238.1V260.6" stroke="#35857d" stroke-width="1.2"/><rect x="652.00" y="238.8" width="3" height="13.8" fill="#2f988c"/>
<path d="M656.5 235.0V246.9" stroke="#9c5f5b" stroke-width="1.2"/><rect x="655.00" y="239.4" width="3" height="5.6" fill="#cf665f"/>
<path d="M659.5 228.8V245.6" stroke="#35857d" stroke-width="1.2"/><rect x="658.00" y="236.2" width="3" height="8.8" fill="#2f988c"/>
<path d="M662.5 221.2V237.5" stroke="#35857d" stroke-width="1.2"/><rect x="661.00" y="224.4" width="3" height="12.5" fill="#2f988c"/>
<path d="M664.5 198.1V225.6" stroke="#35857d" stroke-width="1.2"/><rect x="663.00" y="198.8" width="3" height="26.2" fill="#2f988c"/>
<path d="M667.5 194.0V210.0" stroke="#9c5f5b" stroke-width="1.2"/><rect x="666.00" y="199.0" width="3" height="7.2" fill="#cf665f"/>
<path d="M670.5 201.2V218.1" stroke="#35857d" stroke-width="1.2"/><rect x="669.00" y="205.0" width="3" height="1.2" fill="#2f988c"/>
<path d="M673.5 198.1V210.6" stroke="#9c5f5b" stroke-width="1.2"/><rect x="672.00" y="205.6" width="3" height="4.4" fill="#cf665f"/>
<path d="M675.5 201.9V215.0" stroke="#9c5f5b" stroke-width="1.2"/><rect x="674.00" y="209.4" width="3" height="1.2" fill="#cf665f"/>
<path d="M678.5 206.9V225.0" stroke="#9c5f5b" stroke-width="1.2"/><rect x="677.00" y="210.0" width="3" height="14.4" fill="#cf665f"/>
<path d="M681.5 208.1V230.0" stroke="#9c5f5b" stroke-width="1.2"/><rect x="680.00" y="223.8" width="3" height="3.1" fill="#cf665f"/>
<path d="M684.5 208.8V228.8" stroke="#35857d" stroke-width="1.2"/><rect x="683.00" y="209.4" width="3" height="17.5" fill="#2f988c"/>
<path d="M686.5 205.0V215.6" stroke="#35857d" stroke-width="1.2"/><rect x="685.00" y="209.4" width="3" height="4.4" fill="#2f988c"/>
<path d="M689.5 196.9V212.5" stroke="#9c5f5b" stroke-width="1.2"/><rect x="688.00" y="209.0" width="3" height="1.0" fill="#cf665f"/>
<path d="M692.5 207.5V232.5" stroke="#9c5f5b" stroke-width="1.2"/><rect x="691.00" y="209.4" width="3" height="22.5" fill="#cf665f"/>
<path d="M695.5 213.8V235.6" stroke="#35857d" stroke-width="1.2"/><rect x="694.00" y="219.4" width="3" height="12.5" fill="#2f988c"/>
<path d="M697.5 198.8V226.9" stroke="#35857d" stroke-width="1.2"/><rect x="696.00" y="213.1" width="3" height="6.9" fill="#2f988c"/>
<path d="M700.5 189.8V220.6" stroke="#35857d" stroke-width="1.2"/><rect x="699.00" y="191.0" width="3" height="23.4" fill="#2f988c"/>
<path d="M703.5 186.0V208.1" stroke="#9c5f5b" stroke-width="1.2"/><rect x="702.00" y="191.0" width="3" height="10.2" fill="#cf665f"/>
<path d="M706.5 200.0V210.0" stroke="#9c5f5b" stroke-width="1.2"/><rect x="705.00" y="201.0" width="3" height="4.6" fill="#cf665f"/>
<path d="M708.5 192.2V206.2" stroke="#35857d" stroke-width="1.2"/><rect x="707.00" y="197.5" width="3" height="8.1" fill="#2f988c"/>
<path d="M711.5 192.2V233.1" stroke="#9c5f5b" stroke-width="1.2"/><rect x="710.00" y="197.5" width="3" height="35.0" fill="#cf665f"/>
<path d="M714.5 239.4V257.5" stroke="#9c5f5b" stroke-width="1.2"/><rect x="713.00" y="241.9" width="3" height="3.7" fill="#cf665f"/>
<path d="M717.5 244.4V262.5" stroke="#9c5f5b" stroke-width="1.2"/><rect x="716.00" y="245.0" width="3" height="10.0" fill="#cf665f"/>
<path d="M719.5 211.2V256.2" stroke="#35857d" stroke-width="1.2"/><rect x="718.00" y="228.1" width="3" height="27.5" fill="#2f988c"/>
<path d="M722.5 225.2V257.5" stroke="#9c5f5b" stroke-width="1.2"/><rect x="721.00" y="228.1" width="3" height="28.1" fill="#cf665f"/>
<path d="M725.5 253.1V282.8" stroke="#9c5f5b" stroke-width="1.2"/><rect x="724.00" y="256.2" width="3" height="14.4" fill="#cf665f"/>
<path d="M727.5 256.2V271.2" stroke="#35857d" stroke-width="1.2"/><rect x="726.00" y="256.9" width="3" height="13.7" fill="#2f988c"/>
<path d="M730.5 247.2V266.9" stroke="#35857d" stroke-width="1.2"/><rect x="729.00" y="255.0" width="3" height="2.5" fill="#2f988c"/>
<path d="M733.5 250.0V260.6" stroke="#35857d" stroke-width="1.2"/><rect x="732.00" y="254.8" width="3" height="1.0" fill="#2f988c"/>
<path d="M736.5 251.9V271.2" stroke="#9c5f5b" stroke-width="1.2"/><rect x="735.00" y="255.0" width="3" height="15.6" fill="#cf665f"/>
<path d="M738.5 263.1V281.9" stroke="#9c5f5b" stroke-width="1.2"/><rect x="737.00" y="270.0" width="3" height="5.0" fill="#cf665f"/>
<path d="M741.5 252.2V280.0" stroke="#35857d" stroke-width="1.2"/><rect x="740.00" y="258.1" width="3" height="21.3" fill="#2f988c"/>
<path d="M744.5 253.1V273.8" stroke="#9c5f5b" stroke-width="1.2"/><rect x="743.00" y="258.1" width="3" height="7.5" fill="#cf665f"/>
<path d="M747.5 263.8V283.8" stroke="#9c5f5b" stroke-width="1.2"/><rect x="746.00" y="265.0" width="3" height="13.8" fill="#cf665f"/>
<path d="M749.5 260.0V280.0" stroke="#35857d" stroke-width="1.2"/><rect x="748.00" y="269.4" width="3" height="10.0" fill="#2f988c"/>
<path d="M752.5 261.2V275.6" stroke="#35857d" stroke-width="1.2"/><rect x="751.00" y="265.6" width="3" height="4.4" fill="#2f988c"/>
<path d="M755.5 241.0V263.1" stroke="#9c5f5b" stroke-width="1.2"/><rect x="754.00" y="254.0" width="3" height="1.6" fill="#cf665f"/>
<path d="M758.5 251.9V266.9" stroke="#35857d" stroke-width="1.2"/><rect x="757.00" y="253.8" width="3" height="2.5" fill="#2f988c"/>
<path d="M760.5 225.2V255.6" stroke="#35857d" stroke-width="1.2"/><rect x="759.00" y="238.1" width="3" height="16.9" fill="#2f988c"/>
<path d="M763.5 226.2V239.4" stroke="#35857d" stroke-width="1.2"/><rect x="762.00" y="226.9" width="3" height="11.9" fill="#2f988c"/>
<path d="M766.5 215.0V228.1" stroke="#35857d" stroke-width="1.2"/><rect x="765.00" y="216.9" width="3" height="10.6" fill="#2f988c"/>
<path d="M769.5 214.4V231.9" stroke="#35857d" stroke-width="1.2"/><rect x="768.00" y="222.5" width="3" height="8.8" fill="#2f988c"/>
<path d="M771.5 218.1V228.8" stroke="#9c5f5b" stroke-width="1.2"/><rect x="770.00" y="222.5" width="3" height="5.6" fill="#cf665f"/>
<path d="M774.5 220.0V227.5" stroke="#35857d" stroke-width="1.2"/><rect x="773.00" y="220.2" width="3" height="6.6" fill="#2f988c"/>
<path d="M777.5 192.2V221.2" stroke="#35857d" stroke-width="1.2"/><rect x="776.00" y="205.0" width="3" height="15.6" fill="#2f988c"/>
<path d="M780.5 188.1V206.9" stroke="#35857d" stroke-width="1.2"/><rect x="779.00" y="191.2" width="3" height="15.0" fill="#2f988c"/>
<path d="M782.5 184.4V200.0" stroke="#35857d" stroke-width="1.2"/><rect x="781.00" y="191.9" width="3" height="7.5" fill="#2f988c"/>
<path d="M785.5 190.0V202.5" stroke="#35857d" stroke-width="1.2"/><rect x="784.00" y="191.9" width="3" height="1.2" fill="#2f988c"/>
<path d="M788.5 173.1V193.8" stroke="#35857d" stroke-width="1.2"/><rect x="787.00" y="176.9" width="3" height="16.2" fill="#2f988c"/>
<path d="M791.5 176.2V195.0" stroke="#9c5f5b" stroke-width="1.2"/><rect x="790.00" y="176.9" width="3" height="17.5" fill="#cf665f"/>
<path d="M793.5 193.8V201.9" stroke="#9c5f5b" stroke-width="1.2"/><rect x="792.00" y="194.4" width="3" height="6.9" fill="#cf665f"/>
<path d="M796.5 191.2V202.5" stroke="#35857d" stroke-width="1.2"/><rect x="795.00" y="195.6" width="3" height="5.6" fill="#2f988c"/>
<path d="M799.5 194.4V213.8" stroke="#9c5f5b" stroke-width="1.2"/><rect x="798.00" y="195.6" width="3" height="15.0" fill="#cf665f"/>
<path d="M802.5 205.0V220.6" stroke="#9c5f5b" stroke-width="1.2"/><rect x="801.00" y="210.0" width="3" height="6.9" fill="#cf665f"/>
<path d="M804.5 204.4V216.9" stroke="#35857d" stroke-width="1.2"/><rect x="803.00" y="210.0" width="3" height="6.2" fill="#2f988c"/>
<path d="M807.5 205.0V215.0" stroke="#35857d" stroke-width="1.2"/><rect x="806.00" y="210.0" width="3" height="4.4" fill="#2f988c"/>
<path d="M810.5 204.4V230.0" stroke="#9c5f5b" stroke-width="1.2"/><rect x="809.00" y="210.0" width="3" height="13.8" fill="#cf665f"/>
<path d="M813.5 216.9V231.9" stroke="#9c5f5b" stroke-width="1.2"/><rect x="812.00" y="223.1" width="3" height="3.8" fill="#cf665f"/>
<path d="M815.5 212.2V227.5" stroke="#35857d" stroke-width="1.2"/><rect x="814.00" y="221.9" width="3" height="5.0" fill="#2f988c"/>
<path d="M818.5 218.1V239.4" stroke="#9c5f5b" stroke-width="1.2"/><rect x="817.00" y="221.2" width="3" height="14.4" fill="#cf665f"/>
<path d="M821.5 182.5V238.1" stroke="#35857d" stroke-width="1.2"/><rect x="820.00" y="188.8" width="3" height="46.9" fill="#2f988c"/>
<path d="M824.5 150.2V192.5" stroke="#35857d" stroke-width="1.2"/><rect x="823.00" y="170.0" width="3" height="15.0" fill="#2f988c"/>
<path d="M826.5 168.1V190.0" stroke="#9c5f5b" stroke-width="1.2"/><rect x="825.00" y="170.0" width="3" height="11.2" fill="#cf665f"/>
<path d="M829.5 178.1V189.4" stroke="#9c5f5b" stroke-width="1.2"/><rect x="828.00" y="180.6" width="3" height="3.8" fill="#cf665f"/>
<path d="M832.5 175.0V199.4" stroke="#9c5f5b" stroke-width="1.2"/><rect x="831.00" y="183.8" width="3" height="1.9" fill="#cf665f"/>
<path d="M835.5 180.0V188.8" stroke="#9c5f5b" stroke-width="1.2"/><rect x="834.00" y="185.0" width="3" height="3.1" fill="#cf665f"/>
<path d="M837.5 177.5V189.4" stroke="#35857d" stroke-width="1.2"/><rect x="836.00" y="180.0" width="3" height="8.8" fill="#2f988c"/>
<path d="M840.5 152.5V186.9" stroke="#35857d" stroke-width="1.2"/><rect x="839.00" y="155.6" width="3" height="25.6" fill="#2f988c"/>
<path d="M843.5 135.0V156.9" stroke="#35857d" stroke-width="1.2"/><rect x="842.00" y="148.1" width="3" height="8.1" fill="#2f988c"/>
<path d="M846.5 147.5V172.5" stroke="#9c5f5b" stroke-width="1.2"/><rect x="845.00" y="148.1" width="3" height="16.3" fill="#cf665f"/>
<path d="M848.5 142.5V165.0" stroke="#35857d" stroke-width="1.2"/><rect x="847.00" y="143.1" width="3" height="21.3" fill="#2f988c"/>
<path d="M851.5 118.8V144.4" stroke="#35857d" stroke-width="1.2"/><rect x="850.00" y="119.8" width="3" height="24.0" fill="#2f988c"/>
<path d="M854.5 85.6V124.4" stroke="#35857d" stroke-width="1.2"/><rect x="853.00" y="102.2" width="3" height="18.4" fill="#2f988c"/>
<path d="M857.5 85.6V103.1" stroke="#35857d" stroke-width="1.2"/><rect x="856.00" y="95.6" width="3" height="6.9" fill="#2f988c"/>
<path d="M859.5 89.4V114.4" stroke="#9c5f5b" stroke-width="1.2"/><rect x="858.00" y="95.6" width="3" height="14.4" fill="#cf665f"/>
<path d="M862.5 74.4V111.9" stroke="#35857d" stroke-width="1.2"/><rect x="861.00" y="79.4" width="3" height="30.6" fill="#2f988c"/>
<path d="M865.5 74.4V93.8" stroke="#9c5f5b" stroke-width="1.2"/><rect x="864.00" y="80.0" width="3" height="10.6" fill="#cf665f"/>
<path d="M868.5 78.1V93.8" stroke="#35857d" stroke-width="1.2"/><rect x="867.00" y="81.2" width="3" height="9.4" fill="#2f988c"/>
<path d="M870.5 80.6V111.9" stroke="#9c5f5b" stroke-width="1.2"/><rect x="869.00" y="81.2" width="3" height="25.6" fill="#cf665f"/>
<path d="M873.5 98.1V130.6" stroke="#9c5f5b" stroke-width="1.2"/><rect x="872.00" y="106.2" width="3" height="17.5" fill="#cf665f"/>
<path d="M876.5 116.2V136.2" stroke="#9c5f5b" stroke-width="1.2"/><rect x="875.00" y="123.1" width="3" height="12.5" fill="#cf665f"/>
<path d="M879.5 125.6V136.9" stroke="#9c5f5b" stroke-width="1.2"/><rect x="878.00" y="126.2" width="3" height="10.0" fill="#cf665f"/>
<path d="M881.5 125.0V142.5" stroke="#9c5f5b" stroke-width="1.2"/><rect x="880.00" y="126.2" width="3" height="10.6" fill="#cf665f"/>
<path d="M884.5 116.2V138.8" stroke="#35857d" stroke-width="1.2"/><rect x="883.00" y="121.2" width="3" height="15.6" fill="#2f988c"/>
<path d="M887.5 106.2V123.8" stroke="#35857d" stroke-width="1.2"/><rect x="886.00" y="110.2" width="3" height="11.6" fill="#2f988c"/>
<path d="M890.5 92.2V126.2" stroke="#9c5f5b" stroke-width="1.2"/><rect x="889.00" y="110.0" width="3" height="10.6" fill="#cf665f"/>
<path d="M892.5 116.9V140.6" stroke="#9c5f5b" stroke-width="1.2"/><rect x="891.00" y="120.0" width="3" height="20.0" fill="#cf665f"/>
<path d="M895.5 133.8V146.9" stroke="#9c5f5b" stroke-width="1.2"/><rect x="894.00" y="139.4" width="3" height="6.2" fill="#cf665f"/>
<path d="M898.5 132.2V151.9" stroke="#9c5f5b" stroke-width="1.2"/><rect x="897.00" y="145.0" width="3" height="3.8" fill="#cf665f"/>
<path d="M900.5 123.8V150.6" stroke="#35857d" stroke-width="1.2"/><rect x="899.00" y="124.4" width="3" height="24.4" fill="#2f988c"/>
<path d="M903.5 113.1V125.6" stroke="#9c5f5b" stroke-width="1.2"/><rect x="902.00" y="123.8" width="3" height="1.2" fill="#cf665f"/>
<path d="M906.5 99.0V124.4" stroke="#35857d" stroke-width="1.2"/><rect x="905.00" y="101.2" width="3" height="22.5" fill="#2f988c"/>
<path d="M909.5 96.2V110.0" stroke="#9c5f5b" stroke-width="1.2"/><rect x="908.00" y="101.2" width="3" height="8.1" fill="#cf665f"/>
<path d="M911.5 78.8V115.0" stroke="#35857d" stroke-width="1.2"/><rect x="910.00" y="106.9" width="3" height="2.5" fill="#2f988c"/>
<path d="M914.5 83.1V126.2" stroke="#35857d" stroke-width="1.2"/><rect x="913.00" y="90.0" width="3" height="17.5" fill="#2f988c"/>
<path d="M917.5 82.2V100.0" stroke="#9c5f5b" stroke-width="1.2"/><rect x="916.00" y="90.0" width="3" height="1.2" fill="#cf665f"/>
<path d="M920.5 88.1V121.2" stroke="#9c5f5b" stroke-width="1.2"/><rect x="919.00" y="91.9" width="3" height="19.4" fill="#cf665f"/>
<path d="M922.5 81.9V113.1" stroke="#35857d" stroke-width="1.2"/><rect x="921.00" y="82.5" width="3" height="28.8" fill="#2f988c"/>
<path d="M925.5 69.0V106.2" stroke="#9c5f5b" stroke-width="1.2"/><rect x="924.00" y="83.1" width="3" height="18.8" fill="#cf665f"/>
<path d="M928.5 79.0V103.8" stroke="#35857d" stroke-width="1.2"/><rect x="927.00" y="84.4" width="3" height="17.5" fill="#2f988c"/>
<path d="M931.5 73.8V104.4" stroke="#9c5f5b" stroke-width="1.2"/><rect x="930.00" y="84.4" width="3" height="7.5" fill="#cf665f"/>
<path d="M933.5 71.0V108.8" stroke="#9c5f5b" stroke-width="1.2"/><rect x="932.00" y="91.9" width="3" height="8.1" fill="#cf665f"/>
<path d="M936.5 96.9V135.0" stroke="#9c5f5b" stroke-width="1.2"/><rect x="935.00" y="100.0" width="3" height="28.1" fill="#cf665f"/>
<path d="M939.5 121.2V140.0" stroke="#9c5f5b" stroke-width="1.2"/><rect x="938.00" y="127.5" width="3" height="9.4" fill="#cf665f"/>
<path d="M942.5 133.8V150.0" stroke="#9c5f5b" stroke-width="1.2"/><rect x="941.00" y="135.6" width="3" height="6.3" fill="#cf665f"/>
<path d="M944.5 138.8V171.9" stroke="#9c5f5b" stroke-width="1.2"/><rect x="943.00" y="141.2" width="3" height="20.0" fill="#cf665f"/>
<path d="M947.5 158.1V171.2" stroke="#35857d" stroke-width="1.2"/><rect x="946.00" y="160.6" width="3" height="8.8" fill="#2f988c"/>
<path d="M950.5 153.8V168.8" stroke="#35857d" stroke-width="1.2"/><rect x="949.00" y="160.0" width="3" height="3.1" fill="#2f988c"/>
<path d="M953.5 160.0V178.1" stroke="#9c5f5b" stroke-width="1.2"/><rect x="952.00" y="160.6" width="3" height="16.9" fill="#cf665f"/>
<path d="M955.5 176.2V191.9" stroke="#9c5f5b" stroke-width="1.2"/><rect x="954.00" y="177.5" width="3" height="1.2" fill="#cf665f"/>
<path d="M958.5 171.2V181.9" stroke="#9c5f5b" stroke-width="1.2"/><rect x="957.00" y="178.1" width="3" height="1.0" fill="#cf665f"/>
<path d="M961.5 178.1V196.9" stroke="#9c5f5b" stroke-width="1.2"/><rect x="960.00" y="179.4" width="3" height="10.0" fill="#cf665f"/>
<path d="M964.5 186.2V200.0" stroke="#9c5f5b" stroke-width="1.2"/><rect x="963.00" y="188.8" width="3" height="7.5" fill="#cf665f"/>
<path d="M966.5 191.9V210.6" stroke="#9c5f5b" stroke-width="1.2"/><rect x="965.00" y="195.6" width="3" height="12.5" fill="#cf665f"/>
<path d="M969.5 203.1V226.9" stroke="#9c5f5b" stroke-width="1.2"/><rect x="968.00" y="207.5" width="3" height="12.5" fill="#cf665f"/>
<path d="M972.5 204.0V221.9" stroke="#35857d" stroke-width="1.2"/><rect x="971.00" y="205.6" width="3" height="13.8" fill="#2f988c"/>
<path d="M975.5 204.4V227.5" stroke="#9c5f5b" stroke-width="1.2"/><rect x="974.00" y="208.1" width="3" height="18.8" fill="#cf665f"/>
<path d="M977.5 225.6V235.0" stroke="#9c5f5b" stroke-width="1.2"/><rect x="976.00" y="226.2" width="3" height="7.5" fill="#cf665f"/>
<path d="M980.5 229.4V246.9" stroke="#9c5f5b" stroke-width="1.2"/><rect x="979.00" y="233.1" width="3" height="6.9" fill="#cf665f"/>
<path d="M983.5 220.0V243.1" stroke="#35857d" stroke-width="1.2"/><rect x="982.00" y="220.6" width="3" height="19.4" fill="#2f988c"/>
<path d="M986.5 216.2V235.6" stroke="#9c5f5b" stroke-width="1.2"/><rect x="985.00" y="221.2" width="3" height="13.8" fill="#cf665f"/>
<path d="M988.5 226.9V238.8" stroke="#35857d" stroke-width="1.2"/><rect x="987.00" y="227.5" width="3" height="7.5" fill="#2f988c"/>
<path d="M991.5 221.2V243.8" stroke="#35857d" stroke-width="1.2"/><rect x="990.00" y="224.4" width="3" height="3.7" fill="#2f988c"/>
<path d="M994.5 204.4V228.8" stroke="#35857d" stroke-width="1.2"/><rect x="993.00" y="210.0" width="3" height="15.0" fill="#2f988c"/>
<path d="M997.5 196.9V213.8" stroke="#35857d" stroke-width="1.2"/><rect x="996.00" y="198.8" width="3" height="11.9" fill="#2f988c"/>
<path d="M999.5 190.0V220.6" stroke="#9c5f5b" stroke-width="1.2"/><rect x="998.00" y="199.4" width="3" height="20.6" fill="#cf665f"/>
<path d="M1002.5 187.2V203.8" stroke="#35857d" stroke-width="1.2"/><rect x="1001.00" y="200.6" width="3" height="1.3" fill="#2f988c"/>
<path d="M1005.5 178.1V202.5" stroke="#35857d" stroke-width="1.2"/><rect x="1004.00" y="181.2" width="3" height="20.6" fill="#2f988c"/>
<path d="M1008.5 178.1V278.1" stroke="#9c5f5b" stroke-width="1.2"/><rect x="1007.00" y="181.2" width="3" height="79.4" fill="#cf665f"/>
<path d="M1010.5 222.5V266.2" stroke="#35857d" stroke-width="1.2"/><rect x="1009.00" y="231.2" width="3" height="29.4" fill="#2f988c"/>
<path d="M1013.5 230.0V275.6" stroke="#9c5f5b" stroke-width="1.2"/><rect x="1012.00" y="230.6" width="3" height="34.4" fill="#cf665f"/>
<path d="M1016.5 260.0V298.8" stroke="#9c5f5b" stroke-width="1.2"/><rect x="1015.00" y="268.1" width="3" height="23.8" fill="#cf665f"/>
<path d="M1019.5 290.0V311.9" stroke="#9c5f5b" stroke-width="1.2"/><rect x="1018.00" y="291.9" width="3" height="10.0" fill="#cf665f"/>
<path d="M1021.5 289.4V326.9" stroke="#9c5f5b" stroke-width="1.2"/><rect x="1020.00" y="301.2" width="3" height="25.0" fill="#cf665f"/>
<path d="M1024.5 316.9V351.0" stroke="#9c5f5b" stroke-width="1.2"/><rect x="1023.00" y="325.0" width="3" height="13.8" fill="#cf665f"/>
<path d="M1027.5 313.1V342.5" stroke="#35857d" stroke-width="1.2"/><rect x="1026.00" y="334.4" width="3" height="4.4" fill="#2f988c"/>
<path d="M1030.5 306.9V339.4" stroke="#35857d" stroke-width="1.2"/><rect x="1029.00" y="311.2" width="3" height="27.5" fill="#2f988c"/>
<path d="M1032.5 308.8V340.0" stroke="#9c5f5b" stroke-width="1.2"/><rect x="1031.00" y="311.2" width="3" height="1.2" fill="#cf665f"/>
<path d="M1035.5 306.0V346.9" stroke="#9c5f5b" stroke-width="1.2"/><rect x="1034.00" y="311.9" width="3" height="20.6" fill="#cf665f"/>
<path d="M1038.5 328.1V363.8" stroke="#9c5f5b" stroke-width="1.2"/><rect x="1037.00" y="331.9" width="3" height="28.1" fill="#cf665f"/>
<path d="M1041.5 358.8V415.0" stroke="#9c5f5b" stroke-width="1.2"/><rect x="1040.00" y="359.4" width="3" height="24.4" fill="#cf665f"/>
<path d="M1043.5 337.2V368.1" stroke="#35857d" stroke-width="1.2"/><rect x="1042.00" y="351.2" width="3" height="6.9" fill="#2f988c"/>
<path d="M1046.5 332.2V378.8" stroke="#9c5f5b" stroke-width="1.2"/><rect x="1045.00" y="351.2" width="3" height="3.8" fill="#cf665f"/>
<path d="M1049.5 315.0V358.8" stroke="#35857d" stroke-width="1.2"/><rect x="1048.00" y="323.1" width="3" height="31.9" fill="#2f988c"/>
<path d="M1052.5 322.5V330.6" stroke="#9c5f5b" stroke-width="1.2"/><rect x="1051.00" y="323.1" width="3" height="6.9" fill="#cf665f"/>
<path d="M1054.5 311.2V330.6" stroke="#35857d" stroke-width="1.2"/><rect x="1053.00" y="320.0" width="3" height="10.0" fill="#2f988c"/>
<path d="M1057.5 322.2V365.0" stroke="#9c5f5b" stroke-width="1.2"/><rect x="1056.00" y="323.8" width="3" height="26.9" fill="#cf665f"/>
<path d="M1060.5 338.8V356.9" stroke="#35857d" stroke-width="1.2"/><rect x="1059.00" y="340.0" width="3" height="10.6" fill="#2f988c"/>
<path d="M1063.5 335.0V360.0" stroke="#35857d" stroke-width="1.2"/><rect x="1062.00" y="336.2" width="3" height="3.8" fill="#2f988c"/>
<path d="M1065.5 314.4V337.5" stroke="#35857d" stroke-width="1.2"/><rect x="1064.00" y="315.0" width="3" height="21.2" fill="#2f988c"/>
<path d="M1068.5 298.1V335.0" stroke="#9c5f5b" stroke-width="1.2"/><rect x="1067.00" y="315.0" width="3" height="8.8" fill="#cf665f"/>
<path d="M1071.5 312.2V337.5" stroke="#9c5f5b" stroke-width="1.2"/><rect x="1070.00" y="327.5" width="3" height="5.0" fill="#cf665f"/>
<path d="M1073.5 322.2V336.2" stroke="#9c5f5b" stroke-width="1.2"/><rect x="1072.00" y="330.0" width="3" height="3.1" fill="#cf665f"/>
<path d="M1076.5 333.6V340.9" stroke="#9c5f5b" stroke-width="1.2"/><rect x="1075.00" y="338.2" width="3" height="1.8" fill="#cf665f"/>
</g>
<text y="45.8" font-size="12.3"><tspan x="17.72" textLength="24.74" lengthAdjust="spacingAndGlyphs" fill="#17181c" stroke="#17181c" stroke-width="0.33">Euro</tspan> <tspan x="48.4" fill="#17181c" stroke="#17181c" stroke-width="0.33">/</tspan> <tspan x="56.01" textLength="23.3" lengthAdjust="spacingAndGlyphs" fill="#17181c" stroke="#17181c" stroke-width="0.33">U.S.</tspan> <tspan x="82.96" textLength="33.4" lengthAdjust="spacingAndGlyphs" fill="#17181c" stroke="#17181c" stroke-width="0.33">Dollar,</tspan> <tspan x="120.49" textLength="15.83" lengthAdjust="spacingAndGlyphs" fill="#17181c" stroke="#17181c" stroke-width="0.33">1D,</tspan> <tspan x="140.8" textLength="29.47" lengthAdjust="spacingAndGlyphs" fill="#17181c" stroke="#17181c" stroke-width="0.33">FXCM</tspan> <tspan x="179.04" textLength="7.9" lengthAdjust="spacingAndGlyphs" fill="#17181c" stroke="#17181c" stroke-width="0.33">O</tspan> <tspan x="188.77" textLength="39.78" lengthAdjust="spacingAndGlyphs" fill="#c6605c" stroke="#c6605c" stroke-width="0.15">1.05268</tspan> <tspan x="235.9" textLength="8.11" lengthAdjust="spacingAndGlyphs" fill="#17181c" stroke="#17181c" stroke-width="0.33">H</tspan> <tspan x="243.71" textLength="40.72" lengthAdjust="spacingAndGlyphs" fill="#c6605c" stroke="#c6605c" stroke-width="0.15">1.05390</tspan> <tspan x="292.1" textLength="5.7" lengthAdjust="spacingAndGlyphs" fill="#17181c" stroke="#17181c" stroke-width="0.33">L</tspan> <tspan x="297.95" textLength="39.18" lengthAdjust="spacingAndGlyphs" fill="#c6605c" stroke="#c6605c" stroke-width="0.15">1.05201</tspan> <tspan x="346.23" textLength="6.54" lengthAdjust="spacingAndGlyphs" fill="#17181c" stroke="#17181c" stroke-width="0.33">C</tspan> <tspan x="352.94" textLength="40.83" lengthAdjust="spacingAndGlyphs" fill="#c6605c" stroke="#c6605c" stroke-width="0.15">1.05225</tspan> <tspan x="400.93" textLength="45.61" lengthAdjust="spacingAndGlyphs" fill="#c6605c" stroke="#c6605c" stroke-width="0.15">−0.00043</tspan> <tspan x="451.02" textLength="43.41" lengthAdjust="spacingAndGlyphs" fill="#c6605c" stroke="#c6605c" stroke-width="0.15">(−0.04%)</tspan></text>
<text x="1114.63" y="39.3" font-size="12" fill="#17181c" textLength="39.88" lengthAdjust="spacingAndGlyphs" stroke="#17181c" stroke-width="0.33">1.13000</text>
<text x="1114.63" y="78.5" font-size="12" fill="#17181c" textLength="39.88" lengthAdjust="spacingAndGlyphs" stroke="#17181c" stroke-width="0.33">1.12000</text>
<text x="1114.57" y="117.7" font-size="12" fill="#17181c" textLength="40.21" lengthAdjust="spacingAndGlyphs" stroke="#17181c" stroke-width="0.33">1.11000</text>
<text x="1114.63" y="156.9" font-size="12" fill="#17181c" textLength="39.88" lengthAdjust="spacingAndGlyphs" stroke="#17181c" stroke-width="0.33">1.10000</text>
<text x="1114.63" y="196.1" font-size="12" fill="#17181c" textLength="39.88" lengthAdjust="spacingAndGlyphs" stroke="#17181c" stroke-width="0.33">1.09000</text>
<text x="1114.63" y="235.3" font-size="12" fill="#17181c" textLength="39.88" lengthAdjust="spacingAndGlyphs" stroke="#17181c" stroke-width="0.33">1.08000</text>
<text x="1114.63" y="274.5" font-size="12" fill="#17181c" textLength="39.88" lengthAdjust="spacingAndGlyphs" stroke="#17181c" stroke-width="0.33">1.07000</text>
<text x="1114.63" y="392.1" font-size="12" fill="#17181c" textLength="39.88" lengthAdjust="spacingAndGlyphs" stroke="#17181c" stroke-width="0.33">1.04000</text>
<text x="1114.63" y="431.3" font-size="12" fill="#17181c" textLength="39.88" lengthAdjust="spacingAndGlyphs" stroke="#17181c" stroke-width="0.33">1.03000</text>
<rect x="1106" y="152.1" width="53" height="16.6" rx="2" fill="#2a63ec"/>
<text x="1114.4" y="164.8" font-size="12" fill="#fff" textLength="40.43" lengthAdjust="spacingAndGlyphs" stroke="#fff" stroke-width="0.15">1.09815</text>
<rect x="1106" y="301.2" width="53" height="16.6" rx="2" fill="#2a63ec"/>
<text x="1114.42" y="313.9" font-size="12" fill="#fff" textLength="40.01" lengthAdjust="spacingAndGlyphs" stroke="#fff" stroke-width="0.15">1.06024</text>
<rect x="1106" y="363.1" width="53" height="16.6" rx="2" fill="#2a63ec"/>
<text x="1114.4" y="375.8" font-size="12" fill="#fff" textLength="40.41" lengthAdjust="spacingAndGlyphs" stroke="#fff" stroke-width="0.15">1.04508</text>
<rect x="1106" y="332.6" width="56.7" height="29.7" rx="2" fill="#e24943"/>
<text x="1114.4" y="344.9" font-size="12" fill="#fff" textLength="40.43" lengthAdjust="spacingAndGlyphs" stroke="#fff" stroke-width="0.15">1.05225</text>
<text x="1114.61" y="358.6" font-size="12" fill="#fbdcda" textLength="43.46" lengthAdjust="spacingAndGlyphs" stroke="#fbdcda" stroke-width="0.1">15:58:48</text>
<rect x="1055.3" y="332.6" width="49.5" height="16.1" rx="2" fill="#e24943"/>
<text x="1058.74" y="344.9" font-size="12" fill="#fff" textLength="42.3" lengthAdjust="spacingAndGlyphs" stroke="#fff" stroke-width="0.15">EURUSD</text>
<defs><clipPath id="fclip"><circle r="8.3"/></clipPath></defs>
<circle cx="1077.4" cy="411.9" r="10.5" fill="#fff" stroke="#9a3590" stroke-width="1.6"/>
<g transform="translate(1078.9,411.9)">
<circle r="10.4" fill="#fff" stroke="#b8475a" stroke-width="1.3"/>
<g clip-path="url(#fclip)">
<rect x="-8" y="-8" width="16" height="16" fill="#fff"/>
<rect x="1" y="-6.2" width="8" height="1.9" fill="#f0a6a4"/>
<rect x="1" y="-1.6" width="8" height="3" fill="#dd5a57"/>
<rect x="-8" y="4.9" width="16" height="3.4" fill="#dd5a57"/>
<rect x="-8" y="-8" width="9.8" height="9.4" fill="#3f8ede"/>
<path d="M-4.6 -6.2h.01M-2.3 -6.2h.01M0 -6.2h.01M-4.6 -3.6h.01M-2.3 -3.6h.01M0 -3.6h.01M-4.6 -1h.01M-2.3 -1h.01M0 -1h.01M-6.9 -3.6h.01M-6.9 -1h.01" stroke="#d9ebfc" stroke-width="1.1" stroke-linecap="round" fill="none"/>
</g></g>
<circle cx="1084.4" cy="437.2" r="10.5" fill="#e3424d" stroke="#f7c3c6" stroke-width="0.55"/>
<circle cx="1082.0" cy="437.2" r="10.5" fill="#e3424d" stroke="#f7c3c6" stroke-width="0.55"/>
<circle cx="1079.6" cy="437.2" r="10.5" fill="#e3424d" stroke="#f7c3c6" stroke-width="0.55"/>
<g transform="translate(1077,437.2)">
<circle r="10.4" fill="#fff" stroke="#b8475a" stroke-width="1.3"/>
<g clip-path="url(#fclip)">
<rect x="-8" y="-8" width="16" height="16" fill="#fff"/>
<rect x="1" y="-6.2" width="8" height="1.9" fill="#f0a6a4"/>
<rect x="1" y="-1.6" width="8" height="3" fill="#dd5a57"/>
<rect x="-8" y="4.9" width="16" height="3.4" fill="#dd5a57"/>
<rect x="-8" y="-8" width="9.8" height="9.4" fill="#3f8ede"/>
<path d="M-4.6 -6.2h.01M-2.3 -6.2h.01M0 -6.2h.01M-4.6 -3.6h.01M-2.3 -3.6h.01M0 -3.6h.01M-4.6 -1h.01M-2.3 -1h.01M0 -1h.01M-6.9 -3.6h.01M-6.9 -1h.01" stroke="#d9ebfc" stroke-width="1.1" stroke-linecap="round" fill="none"/>
</g></g>
<rect x="11" y="449.9" width="1156" height="1.5" fill="#e6e8ec"/>
<rect x="11" y="476.5" width="1093.8" height="91.0" fill="#7e57c2" fill-opacity="0.1"/>
<line x1="10.8" y1="476.5" x2="1104.8" y2="476.5" stroke="#868892" stroke-width="1" stroke-dasharray="5.5,5.5"/>
<line x1="10.8" y1="522.4" x2="1104.8" y2="522.4" stroke="#868892" stroke-width="1" stroke-dasharray="5.5,5.5"/>
<line x1="10.8" y1="567.5" x2="1104.8" y2="567.5" stroke="#868892" stroke-width="1" stroke-dasharray="5.5,5.5"/>
<polyline fill="none" stroke="#f4e5a4" stroke-width="1.5" stroke-linejoin="round" points="11.3,531.7 14.0,526.9 16.8,522.6 19.5,517.5 22.2,513.6 25.0,511.4 27.8,509.4 30.5,506.9 33.2,505.7 36.0,505.7 38.7,505.4 41.5,505.4 44.2,506.4 47.0,508.2 49.7,510.2 52.5,510.5 55.2,510.3 58.0,511.1 60.7,509.8 63.4,506.3 66.2,503.1 68.9,500.8 71.7,497.4 74.4,494.0 77.2,492.7 79.9,491.5 82.7,490.8 85.4,490.1 88.2,489.4 90.9,491.7 93.7,493.7 96.4,496.2 99.1,500.1 101.9,505.4 104.6,510.5 107.4,514.5 110.1,518.7 112.9,522.8 115.6,525.2 118.4,527.4 121.1,529.0 123.9,530.9 126.6,533.5 129.3,534.7 132.1,536.5 134.8,538.2 137.6,539.0 140.3,539.9 143.1,540.6 145.8,543.1 148.6,545.7 151.3,546.9 154.1,547.0 156.8,546.4 159.6,546.6 162.3,547.0 165.1,547.0 167.8,547.5 170.5,547.7 173.3,548.3 176.0,549.5 178.8,548.8 181.5,548.6 184.3,547.8 187.0,548.0 189.8,548.5 192.5,549.6 195.2,551.8 198.0,552.8 200.8,553.0 203.5,553.8 206.2,554.5 209.0,555.5 211.7,556.9 214.5,556.7 217.2,557.5 220.0,559.4 222.7,561.0 225.5,560.8 228.2,559.9 230.9,559.5 233.7,558.7 236.4,557.0 239.2,555.0 241.9,554.2 244.7,553.0 247.4,550.5 250.2,547.0 252.9,545.8 255.7,543.8 258.4,540.6 261.2,536.1 263.9,533.6 266.6,532.5 269.4,531.8 272.1,531.3 274.9,530.5 277.6,530.6 280.4,529.4 283.1,527.0 285.9,524.2 288.6,521.9 291.4,519.4 294.1,517.7 296.9,516.9 299.6,516.9 302.4,515.5 305.1,511.7 307.8,508.4 310.6,504.9 313.3,502.0 316.1,498.1 318.8,494.7 321.6,492.7 324.3,492.1 327.1,490.8 329.8,488.9 332.6,486.7 335.3,484.4 338.1,484.2 340.8,484.4 343.5,487.4 346.3,490.3 349.0,493.9 351.8,497.4 354.5,501.8 357.3,505.4 360.0,508.0 362.8,509.4 365.5,509.9 368.2,512.2 371.0,514.5 373.8,515.6 376.5,515.6 379.2,514.9 382.0,513.3 384.7,511.1 387.5,508.0 390.2,504.9 393.0,502.1 395.7,499.8 398.5,498.1 401.2,499.1 403.9,501.8 406.7,502.5 409.4,503.7 412.2,505.4 414.9,506.6 417.7,507.7 420.4,509.1 423.2,510.8 425.9,512.8 428.7,516.8 431.4,519.9 434.2,522.6 436.9,524.8 439.6,525.8 442.4,527.0 445.1,527.8 447.9,529.2 450.6,530.7 453.4,532.2 456.1,534.1 458.9,536.5 461.6,537.0 464.4,539.0 467.1,540.3 469.9,541.3 472.6,541.8 475.4,542.8 478.1,543.4 480.8,543.7 483.6,545.8 486.3,546.6 489.1,546.4 491.8,545.7 494.6,545.4 497.3,543.8 500.1,543.2 502.8,541.1 505.6,538.7 508.3,535.8 511.1,533.5 513.8,531.4 516.5,530.3 519.3,528.1 522.0,524.5 524.8,521.3 527.5,518.4 530.3,514.6 533.0,511.1 535.8,508.9 538.5,507.0 541.2,504.8 544.0,504.3 546.7,504.6 549.5,505.1 552.2,505.7 555.0,503.9 557.7,504.6 560.5,506.9 563.2,508.4 566.0,511.0 568.7,514.6 571.5,518.8 574.2,522.4 577.0,526.8 579.7,530.9 582.4,531.3 585.2,531.8 587.9,532.0 590.7,531.3 593.4,532.1 596.2,533.7 598.9,534.5 601.7,537.1 604.4,539.8 607.2,542.4 609.9,542.8 612.6,543.6 615.4,543.4 618.1,544.0 620.9,545.0 623.6,546.0 626.4,546.2 629.1,547.9 631.9,548.8 634.6,548.3 637.4,546.6 640.1,543.5 642.9,539.4 645.6,535.3 648.4,532.9 651.1,530.3 653.8,527.2 656.6,524.5 659.3,522.6 662.1,520.0 664.8,517.1 667.6,513.9 670.3,511.4 673.1,508.2 675.8,506.1 678.5,505.2 681.3,505.3 684.0,504.5 686.8,503.3 689.5,502.0 692.3,503.1 695.0,502.9 697.8,502.9 700.5,502.4 703.3,503.6 706.0,504.7 708.8,505.3 711.5,507.7 714.2,510.6 717.0,513.0 719.7,513.7 722.5,516.5 725.2,519.8 728.0,522.4 730.7,523.3 733.5,524.9 736.2,527.5 739.0,531.5 741.7,533.6 744.5,535.9 747.2,539.1 750.0,539.6 752.7,539.4 755.4,538.1 758.2,538.2 760.9,536.3 763.7,533.3 766.4,530.6 769.2,528.3 771.9,526.4 774.7,523.5 777.4,519.6 780.2,516.2 782.9,512.5 785.6,508.3 788.4,504.0 791.1,501.3 793.9,499.6 796.6,497.9 799.4,498.0 802.1,499.0 804.9,500.1 807.6,500.9 810.4,502.1 813.1,504.0 815.9,506.3 818.6,510.0 821.4,510.9 824.1,511.2 826.8,512.8 829.6,513.1 832.3,513.1 835.1,513.5 837.8,512.5 840.6,510.0 843.3,507.7 846.1,506.5 848.8,503.5 851.5,499.7 854.3,495.7 857.0,490.7 859.8,489.3 862.5,487.9 865.3,486.4 868.0,484.5 870.8,484.0 873.5,484.2 876.3,485.3 879.0,487.4 881.8,489.9 884.5,490.5 887.2,491.5 890.0,493.9 892.7,497.6 895.5,501.8 898.2,505.2 901.0,508.2 903.7,510.5 906.5,512.1 909.2,512.7 912.0,512.4 914.7,510.8 917.5,509.3 920.2,509.0 923.0,508.2 925.7,508.9 928.4,508.3 931.2,507.1 933.9,506.1 936.7,506.2 939.4,507.9 942.2,509.7 944.9,513.2 947.7,516.2 950.4,519.3 953.2,523.7 955.9,528.1 958.6,531.3 961.4,536.0 964.1,540.0 966.9,545.0 969.6,550.0 972.4,553.5 975.1,556.4 977.9,559.1 980.6,561.9 983.4,562.5 986.1,563.6 988.9,564.2 991.6,564.0 994.4,562.8 997.1,560.8 999.8,559.5 1002.6,556.8 1005.3,552.8 1008.1,551.2 1010.8,549.6 1013.6,548.1 1016.3,547.0 1019.1,546.0 1021.8,546.8 1024.5,547.4 1027.3,548.3 1030.0,548.4 1032.8,549.4 1035.5,551.6 1038.3,553.5 1041.0,556.8 1043.8,559.7 1046.5,559.8 1049.3,559.9 1052.0,559.4 1054.8,557.8 1057.5,556.9 1060.2,555.1 1063.0,552.9 1065.7,550.1 1068.5,548.6 1071.2,547.4 1074.0,545.6 1076.7,543.6"/>
<polyline fill="none" stroke="#7a5fb7" stroke-width="1" stroke-linejoin="round" points="11.3,490.6 14.0,498.3 16.8,499.4 19.5,484.9 22.2,495.1 25.0,515.1 27.8,511.3 30.5,499.5 33.2,512.9 36.0,525.6 38.7,514.3 41.5,514.9 44.2,523.2 47.0,529.0 49.7,519.6 52.5,502.4 55.2,496.8 58.0,495.4 60.7,477.1 63.4,466.1 66.2,466.6 68.9,466.5 71.7,466.5 74.4,477.1 77.2,496.8 79.9,497.7 82.7,514.2 85.4,518.1 88.2,510.1 90.9,534.5 93.7,525.8 96.4,529.3 99.1,531.9 101.9,540.6 104.6,537.7 107.4,523.6 110.1,524.7 112.9,534.9 115.6,530.4 118.4,527.9 121.1,536.7 123.9,545.1 126.6,546.4 129.3,550.4 132.1,552.0 134.8,553.1 137.6,542.4 140.3,554.0 143.1,547.1 145.8,558.4 148.6,561.4 151.3,551.3 154.1,531.7 156.8,520.0 159.6,539.1 162.3,551.5 165.1,545.4 167.8,557.3 170.5,556.0 173.3,560.7 176.0,559.7 178.8,544.2 181.5,543.4 184.3,548.2 187.0,563.3 189.8,558.2 192.5,547.5 195.2,550.2 198.0,553.9 200.8,554.2 203.5,556.7 206.2,566.7 209.0,570.4 211.7,579.9 214.5,557.2 217.2,555.1 220.0,570.0 222.7,571.3 225.5,559.4 228.2,546.6 230.9,541.2 233.7,539.0 236.4,530.4 239.2,526.0 241.9,546.2 244.7,550.0 247.4,534.9 250.2,530.8 252.9,539.6 255.7,527.7 258.4,524.9 261.2,507.9 263.9,525.0 266.6,530.8 269.4,531.8 272.1,532.5 274.9,518.4 277.6,528.0 280.4,529.1 283.1,516.0 285.9,496.1 288.6,499.0 291.4,504.1 294.1,503.8 296.9,513.3 299.6,509.1 302.4,505.5 305.1,476.5 307.8,485.5 310.6,484.6 313.3,477.0 316.1,473.6 318.8,481.6 321.6,488.5 324.3,486.8 327.1,481.1 329.8,478.3 332.6,472.9 335.3,481.0 338.1,506.1 340.8,507.7 343.5,518.2 346.3,527.4 349.0,534.9 351.8,526.2 354.5,534.4 357.3,531.9 360.0,524.9 362.8,507.2 365.5,487.7 368.2,510.5 371.0,504.3 373.8,496.5 376.5,506.3 379.2,498.2 382.0,495.7 384.7,496.8 387.5,491.6 390.2,483.1 393.0,494.4 395.7,500.1 398.5,500.3 401.2,521.8 403.9,525.2 406.7,520.6 409.4,521.3 412.2,519.5 414.9,523.8 417.7,514.0 420.4,514.4 423.2,520.5 425.9,520.5 428.7,539.1 431.4,536.7 434.2,538.6 436.9,530.9 439.6,535.2 442.4,543.4 445.1,531.6 447.9,540.6 450.6,540.0 453.4,545.7 456.1,540.3 458.9,547.5 461.6,527.8 464.4,549.0 467.1,557.1 469.9,549.8 472.6,546.2 475.4,544.5 478.1,544.5 480.8,546.6 483.6,560.9 486.3,552.8 489.1,536.5 491.8,536.5 494.6,535.4 497.3,525.2 500.1,519.9 502.8,519.4 505.6,522.9 508.3,510.1 511.1,513.3 513.8,516.0 516.5,528.5 519.3,516.4 522.0,509.3 524.8,508.8 527.5,496.0 530.3,483.0 533.0,486.7 535.8,494.2 538.5,493.8 541.2,488.0 544.0,516.3 546.7,514.1 549.5,520.9 552.2,523.4 555.0,503.8 557.7,526.2 560.5,541.0 563.2,530.4 566.0,531.9 568.7,533.8 571.5,545.0 574.2,545.0 577.0,555.2 579.7,545.0 582.4,522.0 585.2,522.0 587.9,522.7 590.7,514.1 593.4,515.5 596.2,548.1 598.9,551.9 601.7,567.7 604.4,569.4 607.2,570.6 609.9,550.2 612.6,556.2 615.4,552.4 618.1,552.7 620.9,535.9 623.6,536.3 626.4,526.3 629.1,537.2 631.9,527.8 634.6,541.6 637.4,527.6 640.1,524.1 642.9,513.0 645.6,513.0 648.4,516.9 651.1,519.5 653.8,509.4 656.6,514.8 659.3,508.4 662.1,500.3 664.8,485.8 667.6,493.0 670.3,492.2 673.1,497.3 675.8,498.0 678.5,511.8 681.3,514.2 684.0,500.9 686.8,500.9 689.5,501.6 692.3,523.7 695.0,513.1 697.8,508.2 700.5,493.1 703.3,503.1 706.0,507.3 708.8,501.5 711.5,530.5 714.2,538.9 717.0,544.6 719.7,523.9 722.5,540.3 725.2,547.4 728.0,537.6 730.7,536.2 733.5,536.0 736.2,545.2 739.0,547.7 741.7,533.8 744.5,538.5 747.2,546.2 750.0,538.3 752.7,535.2 755.4,527.0 758.2,525.5 760.9,513.4 763.7,505.6 766.4,499.2 769.2,504.5 771.9,509.8 774.7,504.0 777.4,493.9 780.2,486.0 782.9,486.7 785.6,486.7 788.4,477.9 791.1,497.5 793.9,504.4 796.6,500.4 799.4,514.9 802.1,520.5 804.9,514.7 807.6,514.7 810.4,527.7 813.1,530.5 815.9,525.4 818.6,537.6 821.4,500.4 824.1,490.2 826.8,499.9 829.6,502.6 832.3,503.7 835.1,506.1 837.8,500.4 840.6,485.9 843.3,482.0 846.1,498.1 848.8,486.7 851.5,476.4 854.3,469.9 857.0,467.6 859.8,481.2 862.5,469.9 865.3,479.6 868.0,476.1 870.8,496.5 873.5,508.1 876.3,515.6 879.0,516.1 881.8,516.5 884.5,507.0 887.2,500.9 890.0,508.9 892.7,522.6 895.5,526.2 898.2,528.3 901.0,511.9 903.7,512.3 906.5,498.4 909.2,504.9 912.0,503.4 914.7,493.9 917.5,495.0 920.2,512.0 923.0,495.8 925.7,510.2 928.4,501.0 931.2,506.4 933.9,512.2 936.7,529.9 939.4,534.8 942.2,537.5 944.9,547.6 947.7,547.1 950.4,546.6 953.2,555.8 955.9,556.4 958.6,556.5 961.4,562.1 964.1,565.6 966.9,571.4 969.6,576.6 972.4,560.6 975.1,570.5 977.9,573.4 980.6,576.0 983.4,555.8 986.1,562.8 988.9,555.6 991.6,552.5 994.4,539.2 997.1,529.7 999.8,543.4 1002.6,528.3 1005.3,515.4 1008.1,554.3 1010.8,537.7 1013.6,549.8 1016.3,558.1 1019.1,561.0 1021.8,567.6 1024.5,570.8 1027.3,568.0 1030.0,553.8 1032.8,554.2 1035.5,560.9 1038.3,569.0 1041.0,575.1 1043.8,555.4 1046.5,556.5 1049.3,539.2 1052.0,541.8 1054.8,536.5 1057.5,548.0 1060.2,542.2 1063.0,540.2 1065.7,528.8 1068.5,532.7 1071.2,536.7 1074.0,537.0 1076.7,540.3"/>
<text y="469.6" font-size="12.3"><tspan x="17.69" textLength="16.68" lengthAdjust="spacingAndGlyphs" fill="#17181c" stroke="#17181c" stroke-width="0.33">RSI</tspan> <tspan x="38.12" textLength="17.71" lengthAdjust="spacingAndGlyphs" fill="#17181c" stroke="#17181c" stroke-width="0.33">(14,</tspan> <tspan x="61.6" textLength="30.04" lengthAdjust="spacingAndGlyphs" fill="#17181c" stroke="#17181c" stroke-width="0.33">close,</tspan> <tspan x="97.65" textLength="25.37" lengthAdjust="spacingAndGlyphs" fill="#17181c" stroke="#17181c" stroke-width="0.33">SMA,</tspan> <tspan x="131.18" textLength="13.56" lengthAdjust="spacingAndGlyphs" fill="#17181c" stroke="#17181c" stroke-width="0.33">14,</tspan> <tspan x="150.53" textLength="9.49" lengthAdjust="spacingAndGlyphs" fill="#17181c" stroke="#17181c" stroke-width="0.33">2)</tspan> <tspan x="168.1" textLength="27.14" lengthAdjust="spacingAndGlyphs" fill="#7e57c2" stroke="#7e57c2" stroke-width="0.1">42.01</tspan> <tspan x="204.35" textLength="28.24" lengthAdjust="spacingAndGlyphs" fill="#f1dc6a" stroke="#f1dc6a" stroke-width="0.1">40.17</tspan> <tspan x="241.20000000000002" fill="#17181c" stroke="#17181c" stroke-width="0.35">∅</tspan> <tspan x="260.79999999999995" fill="#17181c" stroke="#17181c" stroke-width="0.35">∅</tspan> <tspan x="280.0" fill="#17181c" stroke="#17181c" stroke-width="0.35">∅</tspan> <tspan x="299.5" fill="#17181c" stroke="#17181c" stroke-width="0.35">∅</tspan> <tspan x="318.9" fill="#17181c" stroke="#17181c" stroke-width="0.35">∅</tspan> <tspan x="338.59999999999997" fill="#17181c" stroke="#17181c" stroke-width="0.35">∅</tspan></text>
<text x="1114.31" y="457.5" font-size="12" fill="#17181c" textLength="28.13" lengthAdjust="spacingAndGlyphs" stroke="#17181c" stroke-width="0.33">80.00</text>
<rect x="1106" y="440" width="50" height="9.9" fill="#fff"/><rect x="1106" y="449.9" width="50" height="1.5" fill="#e6e8ec"/>
<text x="1114.25" y="502.6" font-size="12" fill="#17181c" textLength="28.19" lengthAdjust="spacingAndGlyphs" stroke="#17181c" stroke-width="0.33">60.00</text>
<text x="1114.08" y="578.8" font-size="12" fill="#17181c" textLength="28.4" lengthAdjust="spacingAndGlyphs" stroke="#17181c" stroke-width="0.33">35.97</text>
<rect x="1106.1" y="532.2" width="40.7" height="16.1" rx="2" fill="#7b54c1"/>
<text x="1114.37" y="545.1" font-size="12" fill="#fff" textLength="28.16" lengthAdjust="spacingAndGlyphs" stroke="#fff" stroke-width="0.15">42.01</text>
<rect x="1106.1" y="549.3" width="40.7" height="16.5" rx="2" fill="#f6df2d"/>
<text x="1114.67" y="562.2" font-size="12" fill="#17181c" textLength="27.78" lengthAdjust="spacingAndGlyphs" stroke="#17181c" stroke-width="0.33">40.17</text>
<text x="32.56" y="604.9" font-size="12" fill="#17181c" textLength="17.48" lengthAdjust="spacingAndGlyphs" stroke="#17181c" stroke-width="0.33">Jul</text>
<text x="150.92" y="604.9" font-size="12" fill="#17181c" textLength="20.59" lengthAdjust="spacingAndGlyphs" stroke="#17181c" stroke-width="0.33">Sep</text>
<text x="269.61" y="604.9" font-size="12" fill="#17181c" textLength="20.99" lengthAdjust="spacingAndGlyphs" stroke="#17181c" stroke-width="0.33">Nov</text>
<text x="507.39" y="604.9" font-size="12" fill="#17181c" textLength="21.13" lengthAdjust="spacingAndGlyphs" stroke="#17181c" stroke-width="0.33">Mar</text>
<text x="624.71" y="604.9" font-size="12" fill="#17181c" textLength="23.05" lengthAdjust="spacingAndGlyphs" stroke="#17181c" stroke-width="0.33">May</text>
<text x="746.58" y="604.9" font-size="12" fill="#17181c" textLength="17.16" lengthAdjust="spacingAndGlyphs" stroke="#17181c" stroke-width="0.33">Jul</text>
<text x="867.99" y="604.9" font-size="12" fill="#17181c" textLength="20.65" lengthAdjust="spacingAndGlyphs" stroke="#17181c" stroke-width="0.33">Sep</text>
<text x="988.73" y="604.9" font-size="12" fill="#17181c" textLength="21.84" lengthAdjust="spacingAndGlyphs" stroke="#17181c" stroke-width="0.33">Nov</text>
<text x="1078.03" y="604.9" font-size="12" fill="#17181c" textLength="12.02" lengthAdjust="spacingAndGlyphs" stroke="#17181c" stroke-width="0.3">16</text>
<text x="383.72" y="604.9" font-size="12" fill="#17181c" textLength="28.01" lengthAdjust="spacingAndGlyphs" font-weight="bold">2024</text>
<rect x="10.2" y="27.4" width="1156.8" height="587.3" fill="none" stroke="#e6e8ec" stroke-width="1.7"/>
<g fill="#131722" transform="translate(10.2,627.2)"><path d="M0 0H9.2V9.5H4.3V3.7H0Z"/><circle cx="11" cy="1.8" r="1.7"/><path d="M14.2 0H18.8L16.2 9.5H11.2Z"/></g>
<text x="34.08" y="636.7" font-size="13.4" fill="#17181c" textLength="70.57" lengthAdjust="spacingAndGlyphs" stroke="#17181c" stroke-width="0.1">TradingView</text>
</svg>
</body></html>
